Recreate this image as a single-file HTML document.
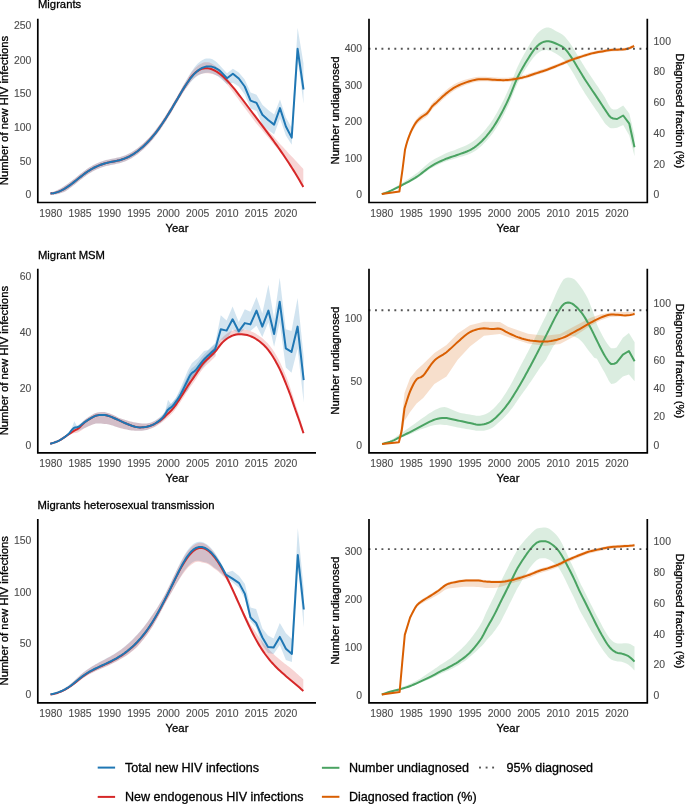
<!DOCTYPE html>
<html><head><meta charset="utf-8"><title>HIV migrants figure</title>
<style>html,body{margin:0;padding:0;background:#fff;}svg{display:block;will-change:transform;font-family:"Liberation Sans",sans-serif;}</style></head><body>
<svg width="685" height="804" viewBox="0 0 685 804">
<rect width="685" height="804" fill="#fff"/>
<text x="38" y="7.9" font-size="11.25" fill="#000" stroke="#000" stroke-width="0.3" text-anchor="start">Migrants</text>
<text x="38" y="258.55" font-size="11.25" fill="#000" stroke="#000" stroke-width="0.3" text-anchor="start">Migrant MSM</text>
<text x="37.6" y="508.9" font-size="11.25" fill="#000" stroke="#000" stroke-width="0.3" text-anchor="start">Migrants heterosexual transmission</text>
<polygon points="50.5,192.41 52,192.1 53.5,191.68 55,191.16 56.5,190.54 58,189.83 59.5,189.04 61,188.16 62.5,187.2 64,186.18 65.5,185.15 67,184.19 68.5,183.17 70,182.1 71.5,180.99 73,179.84 74.5,178.66 76,177.47 77.5,176.27 79,175.06 80.5,173.87 82,172.68 83.5,171.53 85,170.4 86.5,169.31 88,168.28 89.5,167.3 91,166.38 92.5,165.53 94,164.73 95.5,163.99 97,163.3 98.5,162.66 100,162.06 101.5,161.52 103,161.01 104.5,160.55 106,160.12 107.5,159.73 109,159.38 110.5,159.05 112,158.75 113.5,158.46 115,158.17 116.5,157.87 118,157.54 119.5,157.18 121,156.76 122.5,156.29 124,155.76 125.5,155.17 127,154.51 128.5,153.8 130,153.02 131.5,152.18 133,151.28 134.5,150.32 136,149.29 137.5,148.2 139,147.05 140.5,145.83 142,144.54 143.5,143.19 145,141.78 146.5,140.3 148,138.75 149.5,137.14 151,135.46 152.5,133.71 154,131.89 155.5,130.01 157,128.05 158.5,126.03 160,123.93 161.5,121.77 163,119.55 164.5,117.26 166,114.92 167.5,112.54 169,110.11 170.5,107.64 172,105.14 173.5,102.61 175,100.06 176.5,97.5 178,94.93 179.5,92.37 181,89.73 182.5,87.08 184,84.48 185.5,81.96 187,79.53 188.5,77.19 190,74.45 191.5,72.36 193,70.46 194.5,68.76 196,67.26 197.5,65.96 199,64.85 200.5,63.92 202,63.16 203.5,62.58 205,62.3 206.5,62.26 208,62.37 209.5,62.62 211,63.2 212.5,64.01 214,64.94 215.5,66 217,67.17 218.5,68.46 220,69.85 221.5,71.42 223,73.23 224.5,75.14 226,77.12 227.5,79.05 229,80.8 230.5,82.6 232,84.47 233.5,86.39 235,88.36 236.5,90.37 238,92.41 239.5,94.48 241,96.49 242.5,98.49 244,100.49 245.5,102.5 247,104.51 248.5,106.51 250,108.51 251.5,110.5 253,112.48 254.5,114.46 256,116.43 257.5,118.16 259,119.88 260.5,121.61 262,123.34 263.5,125.08 265,126.82 266.5,128.57 268,130.33 269.5,131.97 271,133.63 272.5,135.3 274,136.99 275.5,138.69 277,140.41 278.5,142.16 280,143.92 281.5,145.48 283,147.07 284.5,148.68 286,150.31 287.5,151.98 289,153.68 290.5,155.32 292,156.82 293.5,158.36 295,159.94 296.5,161.55 298,163.15 299.5,164.76 301,166.41 302.5,168.11 303.3,169.03 303.3,186.97 302.5,185.55 301,182.91 299.5,180.32 298,177.77 296.5,175.33 295,173.08 293.5,170.86 292,168.68 290.5,166.53 289,164.38 287.5,162.23 286,160.11 284.5,158.03 283,155.97 281.5,153.93 280,151.92 278.5,150.03 277,148.16 275.5,146.32 274,144.49 272.5,142.68 271,140.88 269.5,139.1 268,137.33 266.5,135.51 265,133.69 263.5,131.89 262,130.09 260.5,128.3 259,126.51 257.5,124.72 256,122.93 254.5,120.96 253,118.98 251.5,117 250,115.01 248.5,113.01 247,111.01 245.5,109 244,106.99 242.5,104.99 241,102.99 239.5,100.96 238,98.83 236.5,96.73 235,94.67 233.5,92.64 232,90.66 230.5,88.74 229,86.87 227.5,85.07 226,83.29 224.5,81.55 223,79.9 221.5,78.34 220,77.22 218.5,76.37 217,75.63 215.5,75 214,74.49 212.5,74.1 211,73.84 209.5,73.62 208,73.37 206.5,73.26 205,73.3 203.5,73.47 202,73.73 200.5,74.17 199,74.77 197.5,75.57 196,76.55 194.5,77.72 193,79.1 191.5,80.68 190,82.45 188.5,84.89 187,86.93 185.5,89.06 184,91.28 182.5,93.58 181,95.93 179.5,98.37 178,100.93 176.5,103.5 175,106.06 173.5,108.61 172,111.14 170.5,113.64 169,116.11 167.5,118.54 166,120.92 164.5,123.26 163,125.55 161.5,127.77 160,129.93 158.5,132.03 157,134.05 155.5,136.01 154,137.89 152.5,139.71 151,141.46 149.5,143.14 148,144.75 146.5,146.3 145,147.78 143.5,149.19 142,150.54 140.5,151.83 139,153.05 137.5,154.2 136,155.29 134.5,156.32 133,157.28 131.5,158.18 130,159.02 128.5,159.8 127,160.51 125.5,161.17 124,161.76 122.5,162.29 121,162.76 119.5,163.18 118,163.54 116.5,163.87 115,164.17 113.5,164.46 112,164.75 110.5,165.05 109,165.38 107.5,165.73 106,166.12 104.5,166.55 103,167.01 101.5,167.52 100,168.06 98.5,168.66 97,169.3 95.5,169.99 94,170.73 92.5,171.53 91,172.38 89.5,173.3 88,174.28 86.5,175.31 85,176.4 83.5,177.53 82,178.68 80.5,179.87 79,181.06 77.5,182.27 76,183.47 74.5,184.66 73,185.84 71.5,186.99 70,188.1 68.5,189.17 67,190.19 65.5,191.15 64,191.91 62.5,192.54 61,193.09 59.5,193.57 58,193.97 56.5,194.28 55,194.49 53.5,194.62 52,194.63 50.5,194.55" fill="#d62728" fill-opacity="0.2" stroke="none"/>
<polygon points="50.5,192.41 52,192.1 53.5,191.68 55,191.16 56.5,190.54 58,189.83 59.5,189.04 61,188.16 62.5,187.2 64,186.18 65.5,185.15 67,184.19 68.5,183.17 70,182.1 71.5,180.99 73,179.84 74.5,178.66 76,177.47 77.5,176.27 79,175.06 80.5,173.87 82,172.68 83.5,171.53 85,170.4 86.5,169.31 88,168.28 89.5,167.3 91,166.38 92.5,165.53 94,164.73 95.5,163.99 97,163.3 98.5,162.66 100,162.06 101.5,161.52 103,161.01 104.5,160.55 106,160.12 107.5,159.73 109,159.38 110.5,159.05 112,158.75 113.5,158.46 115,158.17 116.5,157.87 118,157.54 119.5,157.18 121,156.76 122.5,156.29 124,155.76 125.5,155.17 127,154.51 128.5,153.8 130,153.02 131.5,152.18 133,151.28 134.5,150.32 136,149.29 137.5,148.2 139,147.05 140.5,145.83 142,144.54 143.5,143.19 145,141.78 146.5,140.3 148,138.75 149.5,137.14 151,135.46 152.5,133.71 154,131.89 155.5,130.01 157,128.05 158.5,126.03 160,123.93 161.5,121.77 163,119.55 164.5,117.26 166,114.92 167.5,112.54 169,110.11 170.5,107.64 172,105.14 173.5,102.61 175,100.06 176.5,97.5 178,94.93 179.5,92.37 181,89.63 182.5,86.83 184,84.08 185.5,81.41 187,78.83 188.5,76.34 190,73.98 191.5,71.62 193,69.41 194.5,67.36 196,65.48 197.5,63.83 199,62.48 200.5,61.3 202,60.28 203.5,59.42 205,58.86 206.5,58.54 208,58.38 209.5,58.38 211,58.75 212.5,59.37 214,60.16 215.5,61.17 217,62.48 218.5,63.95 220,65.59 220.3,65.93 227,73.2 232.9,68.7 238.8,72.53 244.7,79.55 250.6,92.6 256.5,94.73 262.4,104.8 268.2,110 274.1,114.62 280,99.6 285.9,117.51 291.7,127.65 297.6,27.8 303.5,63.5 303.5,103.5 297.6,58.8 291.7,144.7 285.9,135.53 280,118.6 274.1,134.61 268.2,130 262.4,124.8 256.5,111.07 250.6,108.6 244.7,94.5 238.8,86.53 232.9,82.65 227,84.2 220.3,78.16 220,77.92 218.5,76.79 217,75.82 215.5,75.01 214,74.26 212.5,73.62 211,73.15 209.5,72.84 208,72.71 206.5,72.75 205,72.95 203.5,73.27 202,73.7 200.5,74.3 199,75.05 197.5,75.97 196,77.05 194.5,78.29 193,79.7 191.5,81.26 190,82.98 188.5,84.89 187,86.93 185.5,89.06 184,91.28 182.5,93.58 181,95.93 179.5,98.37 178,100.93 176.5,103.5 175,106.06 173.5,108.61 172,111.14 170.5,113.64 169,116.11 167.5,118.54 166,120.92 164.5,123.26 163,125.55 161.5,127.77 160,129.93 158.5,132.03 157,134.05 155.5,136.01 154,137.89 152.5,139.71 151,141.46 149.5,143.14 148,144.75 146.5,146.3 145,147.78 143.5,149.19 142,150.54 140.5,151.83 139,153.05 137.5,154.2 136,155.29 134.5,156.32 133,157.28 131.5,158.18 130,159.02 128.5,159.8 127,160.51 125.5,161.17 124,161.76 122.5,162.29 121,162.76 119.5,163.18 118,163.54 116.5,163.87 115,164.17 113.5,164.46 112,164.75 110.5,165.05 109,165.38 107.5,165.73 106,166.12 104.5,166.55 103,167.01 101.5,167.52 100,168.06 98.5,168.66 97,169.3 95.5,169.99 94,170.73 92.5,171.53 91,172.38 89.5,173.3 88,174.28 86.5,175.31 85,176.4 83.5,177.53 82,178.68 80.5,179.87 79,181.06 77.5,182.27 76,183.47 74.5,184.66 73,185.84 71.5,186.99 70,188.1 68.5,189.17 67,190.19 65.5,191.15 64,191.91 62.5,192.54 61,193.09 59.5,193.57 58,193.97 56.5,194.28 55,194.49 53.5,194.62 52,194.63 50.5,194.55" fill="#1f77b4" fill-opacity="0.2" stroke="none"/>
<polyline points="50.5,193.48 52,193.37 53.5,193.15 55,192.83 56.5,192.41 58,191.9 59.5,191.31 61,190.63 62.5,189.87 64,189.04 65.5,188.15 67,187.19 68.5,186.17 70,185.1 71.5,183.99 73,182.84 74.5,181.66 76,180.47 77.5,179.27 79,178.06 80.5,176.87 82,175.68 83.5,174.53 85,173.4 86.5,172.31 88,171.28 89.5,170.3 91,169.38 92.5,168.53 94,167.73 95.5,166.99 97,166.3 98.5,165.66 100,165.06 101.5,164.52 103,164.01 104.5,163.55 106,163.12 107.5,162.73 109,162.38 110.5,162.05 112,161.75 113.5,161.46 115,161.17 116.5,160.87 118,160.54 119.5,160.18 121,159.76 122.5,159.29 124,158.76 125.5,158.17 127,157.51 128.5,156.8 130,156.02 131.5,155.18 133,154.28 134.5,153.32 136,152.29 137.5,151.2 139,150.05 140.5,148.83 142,147.54 143.5,146.19 145,144.78 146.5,143.3 148,141.75 149.5,140.14 151,138.46 152.5,136.71 154,134.89 155.5,133.01 157,131.05 158.5,129.03 160,126.93 161.5,124.77 163,122.55 164.5,120.26 166,117.92 167.5,115.54 169,113.11 170.5,110.64 172,108.14 173.5,105.61 175,103.06 176.5,100.5 178,97.93 179.5,95.37 181,92.83 182.5,90.33 184,87.88 185.5,85.51 187,83.23 188.5,81.04 190,78.45 191.5,76.57 193,74.88 194.5,73.4 196,72.12 197.5,71.03 199,70.13 200.5,69.42 202,68.88 203.5,68.51 205,68.3 206.5,68.26 208,68.37 209.5,68.62 211,69.02 212.5,69.55 214,70.21 215.5,71 217,71.9 218.5,72.91 220,74.03 221.5,75.25 223,76.57 224.5,77.97 226,79.45 227.5,81.01 229,82.64 230.5,84.34 232,86.09 233.5,87.89 235,89.74 236.5,91.63 238,93.56 239.5,95.52 241,97.49 242.5,99.49 244,101.49 245.5,103.5 247,105.51 248.5,107.51 250,109.51 251.5,111.5 253,113.48 254.5,115.46 256,117.43 257.5,119.41 259,121.38 260.5,123.36 262,125.34 263.5,127.33 265,129.32 266.5,131.32 268,133.33 269.5,135.35 271,137.38 272.5,139.43 274,141.49 275.5,143.57 277,145.66 278.5,147.78 280,149.92 281.5,152.08 283,154.27 284.5,156.48 286,158.71 287.5,160.98 289,163.28 290.5,165.61 292,167.97 293.5,170.36 295,172.79 296.5,175.26 298,177.77 299.5,180.32 301,182.91 302.5,185.55 303.3,186.97" fill="none" stroke="#d62728" stroke-width="2.0" stroke-linejoin="round" stroke-linecap="butt"/>
<polyline points="50.5,193.48 52,193.37 53.5,193.15 55,192.83 56.5,192.41 58,191.9 59.5,191.31 61,190.63 62.5,189.87 64,189.04 65.5,188.15 67,187.19 68.5,186.17 70,185.1 71.5,183.99 73,182.84 74.5,181.66 76,180.47 77.5,179.27 79,178.06 80.5,176.87 82,175.68 83.5,174.53 85,173.4 86.5,172.31 88,171.28 89.5,170.3 91,169.38 92.5,168.53 94,167.73 95.5,166.99 97,166.3 98.5,165.66 100,165.06 101.5,164.52 103,164.01 104.5,163.55 106,163.12 107.5,162.73 109,162.38 110.5,162.05 112,161.75 113.5,161.46 115,161.17 116.5,160.87 118,160.54 119.5,160.18 121,159.76 122.5,159.29 124,158.76 125.5,158.17 127,157.51 128.5,156.8 130,156.02 131.5,155.18 133,154.28 134.5,153.32 136,152.29 137.5,151.2 139,150.05 140.5,148.83 142,147.54 143.5,146.19 145,144.78 146.5,143.3 148,141.75 149.5,140.14 151,138.46 152.5,136.71 154,134.89 155.5,133.01 157,131.05 158.5,129.03 160,126.93 161.5,124.77 163,122.55 164.5,120.26 166,117.92 167.5,115.54 169,113.11 170.5,110.64 172,108.14 173.5,105.61 175,103.06 176.5,100.5 178,97.93 179.5,95.37 181,92.83 182.5,90.33 184,87.88 185.5,85.51 187,83.23 188.5,81.04 190,78.98 191.5,77.05 193,75.27 194.5,73.65 196,72.19 197.5,70.9 199,69.77 200.5,68.8 202,67.99 203.5,67.35 205,66.86 206.5,66.54 208,66.38 209.5,66.38 211,66.55 212.5,66.87 214,67.36 215.5,68.01 217,68.82 218.5,69.79 220,70.92 220.3,71.16 227,78.2 232.9,73.7 238.8,78.5 244.7,86.5 250.6,100.6 256.5,102.9 262.4,114.8 268.2,120 274.1,124.6 280,108.1 285.9,126.5 291.7,137.6 297.6,48.8 303.5,89.5" fill="none" stroke="#1f77b4" stroke-width="2.0" stroke-linejoin="round" stroke-linecap="butt"/>
<path d="M37.8 18.7 V202.5 H316" fill="none" stroke="#000" stroke-width="1.7" stroke-linecap="butt" stroke-linejoin="miter"/>
<text x="31.3" y="29.32" font-size="10.4" fill="#4d4d4d" stroke="#4d4d4d" stroke-width="0.12" text-anchor="end">250</text>
<text x="31.3" y="63.52" font-size="10.4" fill="#4d4d4d" stroke="#4d4d4d" stroke-width="0.12" text-anchor="end">200</text>
<text x="31.3" y="97.32" font-size="10.4" fill="#4d4d4d" stroke="#4d4d4d" stroke-width="0.12" text-anchor="end">150</text>
<text x="31.3" y="131.12" font-size="10.4" fill="#4d4d4d" stroke="#4d4d4d" stroke-width="0.12" text-anchor="end">100</text>
<text x="31.3" y="164.82" font-size="10.4" fill="#4d4d4d" stroke="#4d4d4d" stroke-width="0.12" text-anchor="end">50</text>
<text x="31.3" y="198.32" font-size="10.4" fill="#4d4d4d" stroke="#4d4d4d" stroke-width="0.12" text-anchor="end">0</text>
<text x="50.7" y="216.9" font-size="10.4" fill="#4d4d4d" stroke="#4d4d4d" stroke-width="0.12" text-anchor="middle">1980</text>
<text x="80.09" y="216.9" font-size="10.4" fill="#4d4d4d" stroke="#4d4d4d" stroke-width="0.12" text-anchor="middle">1985</text>
<text x="109.48" y="216.9" font-size="10.4" fill="#4d4d4d" stroke="#4d4d4d" stroke-width="0.12" text-anchor="middle">1990</text>
<text x="138.87" y="216.9" font-size="10.4" fill="#4d4d4d" stroke="#4d4d4d" stroke-width="0.12" text-anchor="middle">1995</text>
<text x="168.26" y="216.9" font-size="10.4" fill="#4d4d4d" stroke="#4d4d4d" stroke-width="0.12" text-anchor="middle">2000</text>
<text x="197.65" y="216.9" font-size="10.4" fill="#4d4d4d" stroke="#4d4d4d" stroke-width="0.12" text-anchor="middle">2005</text>
<text x="227.04" y="216.9" font-size="10.4" fill="#4d4d4d" stroke="#4d4d4d" stroke-width="0.12" text-anchor="middle">2010</text>
<text x="256.43" y="216.9" font-size="10.4" fill="#4d4d4d" stroke="#4d4d4d" stroke-width="0.12" text-anchor="middle">2015</text>
<text x="285.82" y="216.9" font-size="10.4" fill="#4d4d4d" stroke="#4d4d4d" stroke-width="0.12" text-anchor="middle">2020</text>
<text x="177" y="231.6" font-size="11.3" fill="#000" stroke="#000" stroke-width="0.3" text-anchor="middle">Year</text>
<text x="8.2" y="110.5" font-size="11.3" fill="#000" stroke="#000" stroke-width="0.3" text-anchor="middle" transform="rotate(-90 8.2 110.5)">Number of new HIV infections</text>
<polygon points="381.8,194.1 383.32,193.43 385.48,192.45 388.07,191.21 390.9,189.71 392.65,188.71 394.57,187.57 396.61,186.33 398.71,185.03 400.81,183.72 402.86,182.45 404.8,181.22 406.62,180.07 408.36,178.96 410.05,177.87 411.73,176.76 413.43,175.6 415.18,174.36 417,173 418.66,171.67 420.38,170.22 422.12,168.69 423.89,167.11 425.68,165.53 427.46,163.99 429.24,162.54 431,161.27 433.01,160 435.03,158.81 437.05,157.69 439.07,156.63 441.06,155.64 443,154.7 444.9,153.8 447.02,152.87 449.05,152.07 451.03,151.34 453.01,150.63 455.02,149.9 457.1,149.1 458.98,148.36 460.93,147.59 462.92,146.78 464.9,145.93 466.86,145.04 468.73,144.1 470.5,143.1 472.41,141.87 474.19,140.61 475.88,139.28 477.54,137.85 479.2,136.31 480.9,134.61 482.22,133.22 483.56,131.73 484.91,130.17 486.26,128.54 487.59,126.86 488.9,125.15 490.17,123.42 491.4,121.66 492.57,119.9 493.7,118.14 494.79,116.35 495.86,114.54 496.92,112.69 497.97,110.78 499.02,108.82 500.1,106.79 501.07,104.95 502.03,103.06 503,101.13 503.97,99.16 504.93,97.15 505.9,95.09 506.87,92.99 507.83,90.85 508.8,88.67 509.59,86.81 510.38,84.88 511.17,82.88 511.96,80.84 512.75,78.78 513.55,76.71 514.34,74.65 515.13,72.64 515.92,70.67 516.71,68.79 517.5,67 518.59,64.67 519.67,62.45 520.76,60.32 521.85,58.27 522.94,56.27 524.02,54.32 525.11,52.39 526.2,50.48 527.46,48.29 528.74,46.09 530.02,43.93 531.29,41.86 532.54,39.9 533.75,38.08 534.9,36.45 536.77,34.07 538.51,32.18 540.2,30.66 541.9,29.41 544.2,28.19 546.5,27.5 548.8,27.45 551.09,28.27 553.38,29.48 555.8,30.96 557.77,31.94 559.85,33.01 561.93,34.28 563.9,35.84 565.37,37.32 566.78,38.95 568.15,40.73 569.52,42.62 570.9,44.6 572.07,46.33 573.24,48.17 574.41,50.09 575.57,52.04 576.74,53.99 577.9,55.9 579.05,57.79 580.2,59.7 581.35,61.6 582.5,63.49 583.65,65.36 584.8,67.2 585.96,69 587.13,70.76 588.29,72.51 589.46,74.24 590.63,75.97 591.8,77.7 592.97,79.44 594.14,81.17 595.31,82.9 596.47,84.63 597.64,86.36 598.8,88.1 599.97,89.88 601.17,91.72 602.36,93.56 603.52,95.36 604.64,97.05 605.7,98.9 607.12,101.64 608.4,104.13 609.66,106.32 611,108.17 613.2,109.38 615.49,109.41 617.1,109.36 623.2,105.5 629.3,113.59 634.5,135.2 634.5,156.2 629.3,135.54 623.2,124.92 617.1,127.72 615.49,127.97 613.2,128.23 611,128.17 609.66,127.67 608.4,126.73 607.12,125.52 605.7,124.2 604.64,123.05 603.52,121.36 602.36,119.56 601.17,117.72 599.97,115.88 598.8,114.1 597.64,112.36 596.47,110.63 595.31,108.9 594.14,107.17 592.97,105.44 591.8,103.7 590.63,101.97 589.46,100.24 588.29,98.51 587.13,96.76 585.96,95 584.8,93.2 583.65,91.36 582.5,89.49 581.35,87.6 580.2,85.7 579.05,83.67 577.9,81.62 576.74,79.55 575.57,77.45 574.41,75.34 573.24,73.27 572.07,71.28 570.9,69.39 569.52,67.23 568.15,65.15 566.78,63.18 565.37,61.37 563.9,59.66 561.93,57.76 559.85,56.15 557.77,54.74 555.8,53.47 553.38,52.15 551.09,51.08 548.8,50.4 546.5,50.1 544.2,50.18 541.9,50.79 540.2,51.58 538.51,52.65 536.77,54.07 534.9,55.95 533.75,57.28 532.54,58.81 531.29,60.52 530.02,62.34 528.74,64.24 527.46,66.18 526.2,68.12 525.11,69.81 524.02,71.52 522.94,73.27 521.85,75.16 520.76,77.12 519.67,79.15 518.59,81.27 517.5,83.5 516.71,85.22 515.92,87.03 515.13,88.92 514.34,90.86 513.55,92.85 512.75,94.84 511.96,96.84 511.17,98.81 510.38,100.74 509.59,102.61 508.8,104.4 507.83,106.51 506.87,108.57 505.9,110.59 504.93,112.56 503.97,114.49 503,116.38 502.03,118.23 501.07,120.04 500.1,121.8 499.02,123.63 497.97,125.38 496.92,127.07 495.86,128.71 494.79,130.31 493.7,131.88 492.57,133.42 491.4,134.94 490.17,136.46 488.9,138.01 487.59,139.54 486.26,141.04 484.91,142.49 483.56,143.87 482.22,145.18 480.9,146.39 479.2,147.86 477.54,149.19 475.88,150.4 474.19,151.5 472.41,152.53 470.5,153.5 468.73,154.27 466.86,154.96 464.9,155.58 462.92,156.17 460.93,156.72 458.98,157.29 457.1,157.9 455.02,158.57 453.01,159.17 451.03,159.74 449.05,160.33 447.02,161 444.9,161.8 443,162.56 441.06,163.37 439.07,164.23 437.05,165.16 435.03,166.14 433.01,167.2 431,168.33 429.24,169.44 427.46,170.66 425.68,171.96 423.89,173.3 422.12,174.64 420.38,175.94 418.66,177.16 417,178.27 415.18,179.38 413.43,180.4 411.73,181.33 410.05,182.21 408.36,183.08 406.62,183.95 404.8,184.86 402.86,185.83 400.81,186.83 398.71,187.82 396.61,188.76 394.57,189.66 392.65,190.48 390.9,191.19 388.07,192.22 385.48,193.03 383.32,193.65 381.8,194.1" fill="#4aa362" fill-opacity="0.2" stroke="none"/>
<polygon points="381.8,194.1 399.4,191.34 402.5,168.3 405,147.71 405.4,146.12 405.96,143.84 406.65,141.24 407.4,138.69 408.05,136.7 408.77,134.63 409.53,132.52 410.35,130.44 411.2,128.45 412.35,126 413.57,123.57 414.84,121.3 416.1,119.38 417.71,117.39 419.34,115.82 421.1,114.31 423.12,112.9 425.28,111.55 427.3,109.92 428.66,108.28 429.94,106.39 431.16,104.52 432.3,102.95 433.91,101.35 436.2,99.4 437.35,98.31 438.72,96.99 440.24,95.52 441.86,93.97 443.51,92.42 445.15,90.96 446.7,89.65 448.4,88.28 450.06,87.01 451.72,85.88 453.41,84.81 455.19,83.8 457.1,82.84 458.88,82.04 460.8,81.27 462.79,80.53 464.81,79.85 466.8,79.22 468.72,78.66 470.5,78.18 472.72,77.65 474.71,77.25 476.63,76.98 478.64,76.81 480.9,76.71 483.05,76.68 485.4,76.77 487.84,76.92 490.29,77.1 492.64,77.27 494.8,77.4 497.12,77.51 499.25,77.64 501.27,77.74 503.26,77.79 505.3,77.76 507.38,77.65 509.46,77.47 511.54,77.24 513.62,76.95 515.7,76.63 517.79,76.28 519.89,75.88 522,75.43 524.1,74.94 526.2,74.4 528.3,73.79 530.4,73.11 532.51,72.39 534.61,71.67 536.7,70.97 538.74,70.33 540.72,69.72 542.73,69.1 544.83,68.42 547.1,67.64 548.88,66.98 550.8,66.25 552.79,65.48 554.81,64.69 556.8,63.9 558.72,63.13 560.5,62.42 562.77,61.5 564.87,60.62 566.88,59.78 568.86,58.97 570.9,58.19 573,57.45 575.1,56.75 577.2,56.07 579.3,55.41 581.4,54.76 583.48,54.09 585.56,53.43 587.64,52.78 589.72,52.17 591.8,51.63 593.92,51.15 596.08,50.74 598.22,50.37 600.31,50.02 602.3,49.69 604.6,49.29 606.76,48.92 608.87,48.6 611,48.35 613.26,48.19 615.57,48.11 617.77,48.06 619.7,48.01 622.52,47.94 624.9,47.74 627.57,47.17 630.1,46.37 632.43,45.25 634.1,44.3 634.1,47.3 632.43,48.27 630.1,49.41 627.57,50.23 624.9,50.83 622.52,51.05 619.7,51.15 617.77,51.22 615.57,51.29 613.26,51.39 611,51.57 608.87,51.85 606.76,52.19 604.6,52.58 602.3,53 600.31,53.35 598.22,53.72 596.08,54.11 593.92,54.54 591.8,55.04 589.72,55.6 587.64,56.23 585.56,56.9 583.48,57.59 581.4,58.27 579.3,58.95 577.2,59.62 575.1,60.32 573,61.04 570.9,61.8 568.86,62.6 566.88,63.43 564.87,64.29 562.77,65.19 560.5,66.14 558.72,66.87 556.8,67.65 554.81,68.46 552.79,69.27 550.8,70.07 548.88,70.81 547.1,71.48 544.83,72.29 542.73,72.99 540.72,73.63 538.74,74.25 536.7,74.92 534.61,75.64 532.51,76.38 530.4,77.12 528.3,77.82 526.2,78.45 524.1,79.01 522,79.52 519.89,79.99 517.79,80.41 515.7,80.78 513.62,81.13 511.54,81.43 509.46,81.69 507.38,81.88 505.3,82.02 503.26,82.07 501.27,82.03 499.25,81.95 497.12,81.85 494.8,81.75 492.64,81.65 490.29,81.5 487.84,81.34 485.4,81.22 483.05,81.15 480.9,81.2 478.64,81.4 476.63,81.7 474.71,82.1 472.72,82.63 470.5,83.32 468.72,83.91 466.8,84.6 464.81,85.36 462.79,86.18 460.8,87.05 458.88,87.95 457.1,88.86 455.19,89.95 453.41,91.08 451.72,92.26 450.06,93.5 448.4,94.76 446.7,96.1 445.15,97.39 443.51,98.83 441.86,100.35 440.24,101.88 438.72,103.33 437.35,104.63 436.2,105.7 433.91,107.62 432.3,109.2 431.16,110.75 429.94,112.6 428.66,114.48 427.3,116.1 425.28,117.7 423.12,119.01 421.1,120.4 419.34,121.88 417.71,123.43 416.1,125.4 414.84,127.27 413.57,129.31 412.35,131.51 411.2,133.75 410.35,135.6 409.53,137.53 408.77,139.49 408.05,141.44 407.4,143.31 406.65,145.72 405.96,148.2 405.4,150.37 405,151.89 402.5,171.1 399.4,191.66 381.8,194.1" fill="#d95f02" fill-opacity="0.2" stroke="none"/>
<polyline points="381.8,194.1 383.32,193.57 385.48,192.84 388.07,191.88 390.9,190.7 392.65,189.89 394.57,188.96 396.61,187.95 398.71,186.89 400.81,185.8 402.86,184.73 404.8,183.7 406.62,182.73 408.36,181.8 410.05,180.88 411.73,179.94 413.43,178.95 415.18,177.88 417,176.7 418.66,175.54 420.38,174.26 422.12,172.9 423.89,171.5 425.68,170.1 427.46,168.74 429.24,167.46 431,166.3 433.01,165.1 435.03,163.97 437.05,162.92 439.07,161.93 441.06,161 443,160.13 444.9,159.3 447.02,158.44 449.05,157.7 451.03,157.04 453.01,156.4 455.02,155.74 457.1,155 458.98,154.33 460.93,153.66 462.92,152.97 464.9,152.26 466.86,151.5 468.73,150.69 470.5,149.8 472.41,148.7 474.19,147.56 475.88,146.34 477.54,145.02 479.2,143.58 480.9,142 482.22,140.7 483.56,139.3 484.91,137.83 486.26,136.29 487.59,134.7 488.9,133.08 490.17,131.44 491.4,129.8 492.57,128.16 493.7,126.51 494.79,124.83 495.86,123.13 496.92,121.38 497.97,119.58 499.02,117.73 500.1,115.8 501.07,114.04 502.03,112.23 503,110.38 503.97,108.49 504.93,106.56 505.9,104.59 506.87,102.57 507.83,100.51 508.8,98.4 509.59,96.61 510.38,94.74 511.17,92.81 511.96,90.84 512.75,88.84 513.55,86.85 514.34,84.86 515.13,82.92 515.92,81.03 516.71,79.22 517.5,77.5 518.59,75.27 519.67,73.15 520.76,71.12 521.85,69.16 522.94,67.27 524.02,65.42 525.11,63.6 526.2,61.8 527.46,59.73 528.74,57.66 530.02,55.64 531.29,53.69 532.54,51.86 533.75,50.18 534.9,48.7 536.77,46.57 538.51,44.91 540.2,43.62 541.9,42.6 544.2,41.68 546.5,41.3 548.8,41.3 551.09,41.69 553.38,42.47 555.8,43.5 557.77,44.34 559.85,45.29 561.93,46.45 563.9,47.9 565.37,49.32 566.78,50.95 568.15,52.73 569.52,54.62 570.9,56.6 572.07,58.33 573.24,60.17 574.41,62.09 575.57,64.04 576.74,65.99 577.9,67.9 579.05,69.79 580.2,71.7 581.35,73.6 582.5,75.49 583.65,77.36 584.8,79.2 585.96,81 587.13,82.76 588.29,84.51 589.46,86.24 590.63,87.97 591.8,89.7 592.97,91.44 594.14,93.17 595.31,94.9 596.47,96.63 597.64,98.36 598.8,100.1 599.97,101.88 601.17,103.72 602.36,105.56 603.52,107.36 604.64,109.05 605.7,110.6 607.12,112.73 608.4,114.67 609.66,116.33 611,117.6 613.2,118.53 615.49,118.84 617.1,119 623.2,115.5 629.3,123.7 634.5,147.2" fill="none" stroke="#4aa362" stroke-width="2.0" stroke-linejoin="round" stroke-linecap="butt"/>
<polyline points="381.8,194.1 399.4,191.5 402.5,169.7 405,149.8 405.4,148.24 405.96,146.02 406.65,143.48 407.4,141 408.05,139.07 408.77,137.06 409.53,135.03 410.35,133.02 411.2,131.1 412.35,128.75 413.57,126.44 414.84,124.29 416.1,122.4 417.71,120.43 419.34,118.88 421.1,117.4 423.12,116.01 425.28,114.7 427.3,113.1 428.66,111.48 429.94,109.6 431.16,107.75 432.3,106.2 433.91,104.62 436.2,102.7 437.35,101.63 438.72,100.33 440.24,98.88 441.86,97.35 443.51,95.83 445.15,94.39 446.7,93.1 448.4,91.76 450.06,90.5 451.72,89.32 453.41,88.2 455.19,87.13 457.1,86.1 458.88,85.24 460.8,84.41 462.79,83.61 464.81,82.86 466.8,82.16 468.72,81.54 470.5,81 472.72,80.39 474.71,79.93 476.63,79.59 478.64,79.35 480.9,79.2 483.05,79.16 485.4,79.23 487.84,79.37 490.29,79.53 492.64,79.69 494.8,79.8 497.12,79.9 499.25,80.01 501.27,80.1 503.26,80.14 505.3,80.1 507.38,79.97 509.46,79.78 511.54,79.53 513.62,79.23 515.7,78.9 517.79,78.53 519.89,78.12 522,77.66 524.1,77.15 526.2,76.6 528.3,75.98 530.4,75.28 532.51,74.55 534.61,73.81 536.7,73.1 538.74,72.44 540.72,71.82 542.73,71.19 544.83,70.5 547.1,69.7 548.88,69.03 550.8,68.3 552.79,67.51 554.81,66.7 556.8,65.9 558.72,65.12 560.5,64.4 562.77,63.46 564.87,62.57 566.88,61.71 568.86,60.89 570.9,60.1 573,59.34 575.1,58.63 577.2,57.94 579.3,57.27 581.4,56.6 583.48,55.92 585.56,55.24 587.64,54.58 589.72,53.96 591.8,53.4 593.92,52.91 596.08,52.48 598.22,52.1 600.31,51.74 602.3,51.4 604.6,50.98 606.76,50.6 608.87,50.27 611,50 613.26,49.83 615.57,49.73 617.77,49.67 619.7,49.6 622.52,49.51 624.9,49.3 627.57,48.71 630.1,47.9 632.43,46.76 634.1,45.8" fill="none" stroke="#d95f02" stroke-width="2.0" stroke-linejoin="round" stroke-linecap="butt"/>
<line x1="368.55" y1="48.7" x2="647" y2="48.7" stroke="#555" stroke-width="1.9" stroke-dasharray="1.9 4.55"/>
<path d="M369 18.7 V202.5 H647.3 V18.7" fill="none" stroke="#000" stroke-width="1.7" stroke-linecap="butt" stroke-linejoin="miter"/>
<text x="362" y="52.32" font-size="10.4" fill="#4d4d4d" stroke="#4d4d4d" stroke-width="0.12" text-anchor="end">400</text>
<text x="362" y="88.82" font-size="10.4" fill="#4d4d4d" stroke="#4d4d4d" stroke-width="0.12" text-anchor="end">300</text>
<text x="362" y="125.32" font-size="10.4" fill="#4d4d4d" stroke="#4d4d4d" stroke-width="0.12" text-anchor="end">200</text>
<text x="362" y="161.72" font-size="10.4" fill="#4d4d4d" stroke="#4d4d4d" stroke-width="0.12" text-anchor="end">100</text>
<text x="362" y="198.22" font-size="10.4" fill="#4d4d4d" stroke="#4d4d4d" stroke-width="0.12" text-anchor="end">0</text>
<text x="653.6" y="44.72" font-size="10.4" fill="#4d4d4d" stroke="#4d4d4d" stroke-width="0.12" text-anchor="start">100</text>
<text x="653.6" y="75.42" font-size="10.4" fill="#4d4d4d" stroke="#4d4d4d" stroke-width="0.12" text-anchor="start">80</text>
<text x="653.6" y="106.12" font-size="10.4" fill="#4d4d4d" stroke="#4d4d4d" stroke-width="0.12" text-anchor="start">60</text>
<text x="653.6" y="136.82" font-size="10.4" fill="#4d4d4d" stroke="#4d4d4d" stroke-width="0.12" text-anchor="start">40</text>
<text x="653.6" y="167.52" font-size="10.4" fill="#4d4d4d" stroke="#4d4d4d" stroke-width="0.12" text-anchor="start">20</text>
<text x="653.6" y="198.22" font-size="10.4" fill="#4d4d4d" stroke="#4d4d4d" stroke-width="0.12" text-anchor="start">0</text>
<text x="381.8" y="216.9" font-size="10.4" fill="#4d4d4d" stroke="#4d4d4d" stroke-width="0.12" text-anchor="middle">1980</text>
<text x="411.19" y="216.9" font-size="10.4" fill="#4d4d4d" stroke="#4d4d4d" stroke-width="0.12" text-anchor="middle">1985</text>
<text x="440.58" y="216.9" font-size="10.4" fill="#4d4d4d" stroke="#4d4d4d" stroke-width="0.12" text-anchor="middle">1990</text>
<text x="469.97" y="216.9" font-size="10.4" fill="#4d4d4d" stroke="#4d4d4d" stroke-width="0.12" text-anchor="middle">1995</text>
<text x="499.36" y="216.9" font-size="10.4" fill="#4d4d4d" stroke="#4d4d4d" stroke-width="0.12" text-anchor="middle">2000</text>
<text x="528.75" y="216.9" font-size="10.4" fill="#4d4d4d" stroke="#4d4d4d" stroke-width="0.12" text-anchor="middle">2005</text>
<text x="558.14" y="216.9" font-size="10.4" fill="#4d4d4d" stroke="#4d4d4d" stroke-width="0.12" text-anchor="middle">2010</text>
<text x="587.53" y="216.9" font-size="10.4" fill="#4d4d4d" stroke="#4d4d4d" stroke-width="0.12" text-anchor="middle">2015</text>
<text x="616.92" y="216.9" font-size="10.4" fill="#4d4d4d" stroke="#4d4d4d" stroke-width="0.12" text-anchor="middle">2020</text>
<text x="508" y="231.6" font-size="11.3" fill="#000" stroke="#000" stroke-width="0.3" text-anchor="middle">Year</text>
<text x="339.4" y="110.5" font-size="11.3" fill="#000" stroke="#000" stroke-width="0.3" text-anchor="middle" transform="rotate(-90 339.4 110.5)">Number undiagnosed</text>
<text x="676.4" y="110.7" font-size="11.3" fill="#000" stroke="#000" stroke-width="0.3" text-anchor="middle" transform="rotate(90 676.4 110.7)">Diagnosed fraction (%)</text>
<polygon points="195.65,371.53 196.52,370.19 197.42,368.79 198.33,367.37 199.25,365.96 200.17,364.55 201.07,363.11 201.95,361.76 202.8,360.53 204.04,358.9 205.25,357.46 206.43,356.17 207.59,354.96 208.71,353.79 209.8,352.59 211.05,351.2 212.24,349.91 213.4,348.64 214.54,347.33 215.7,346 216.68,344.81 217.67,343.51 218.66,342.16 219.63,340.84 220.58,339.59 221.5,338.5 222.79,337.14 223.99,335.99 225.21,334.98 226.5,334 227.92,333.02 229.41,332.1 230.93,331.28 232.4,330.6 234.29,329.96 236.14,329.55 238,329.3 239.87,329.19 241.75,329.23 243.6,329.4 245.4,329.67 247.19,330.06 249,330.6 250.41,331.12 251.86,331.7 253.3,332.36 254.7,333.08 256.04,333.84 257.34,334.64 258.64,335.51 260,336.49 261.15,337.35 262.33,338.29 263.53,339.3 264.73,340.39 265.9,341.46 266.85,342.39 267.79,343.37 268.72,344.41 269.64,345.5 270.57,346.66 271.5,347.88 272.31,349.02 273.13,350.26 273.96,351.55 274.78,352.87 275.59,354.2 276.36,355.51 277.1,356.79 277.9,358.21 278.65,359.59 279.36,360.96 280.06,362.36 280.77,363.83 281.5,365.39 282.07,366.64 282.64,367.93 283.22,369.27 283.8,370.63 284.38,372.01 284.96,373.4 285.53,374.79 286.1,376.16 286.66,377.52 287.21,378.94 287.76,380.46 288.31,382 288.85,383.54 289.4,385.12 289.95,386.72 290.5,388.38 291,389.89 291.5,391.46 292,393.07 292.51,394.7 293.02,396.33 293.52,397.97 294.02,399.58 294.51,401.16 295,402.7 295.54,404.36 296.07,405.98 296.59,407.56 297.11,409.12 297.63,410.68 298.15,412.25 298.67,413.85 299.2,415.49 299.7,417.05 300.23,418.75 300.79,420.53 301.34,422.31 301.88,424.05 302.38,425.68 302.83,427.14 303.21,428.37 303.5,429.3 303.5,433.3 303.21,432.45 302.83,431.34 302.38,430.01 301.88,428.53 301.34,426.95 300.79,425.33 300.23,423.72 299.7,422.17 299.2,420.75 298.67,419.27 298.15,417.83 297.63,416.41 297.11,415 296.59,413.59 296.07,412.16 295.54,410.7 295,409.2 294.51,407.82 294.02,406.39 293.52,404.93 293.02,403.45 292.51,401.98 292,400.51 291.5,399.06 291,397.65 290.5,396.28 289.95,394.8 289.4,393.37 288.85,391.96 288.31,390.59 287.76,389.23 287.21,387.87 286.66,386.5 286.1,385.1 285.53,383.68 284.96,382.25 284.38,380.82 283.8,379.4 283.22,378 282.64,376.62 282.07,375.28 281.5,374 280.77,372.38 280.06,370.86 279.36,369.4 278.65,367.96 277.9,366.5 277.1,365 276.36,363.65 275.59,362.26 274.78,360.85 273.96,359.44 273.13,358.07 272.31,356.75 271.5,355.5 270.57,354.13 269.64,352.83 268.72,351.59 267.79,350.41 266.85,349.28 265.9,348.2 264.73,346.97 263.53,345.82 262.33,344.74 261.15,343.73 260,342.8 258.64,341.75 257.34,340.83 256.04,339.99 254.7,339.2 253.3,338.45 251.86,337.75 250.41,337.13 249,336.6 247.19,336.06 245.4,335.67 243.6,335.4 241.75,335.23 239.87,335.19 238,335.3 236.14,335.55 234.29,335.96 232.4,336.6 230.93,337.28 229.41,338.1 227.92,339.02 226.5,340 225.21,340.98 223.99,341.99 222.79,343.14 221.5,344.5 220.58,345.59 219.63,346.84 218.66,348.16 217.67,349.51 216.68,350.81 215.7,352 214.54,353.3 213.4,354.53 212.24,355.72 211.05,356.94 209.8,358.25 208.71,359.37 207.59,360.46 206.43,361.6 205.25,362.81 204.04,364.17 202.8,365.71 201.95,366.89 201.07,368.18 200.17,369.56 199.25,370.96 198.33,372.37 197.42,373.79 196.52,375.19 195.65,376.53" fill="#d62728" fill-opacity="0.2" stroke="none"/>
<polygon points="50.2,443.89 51.16,443.51 52.49,443.02 54.06,442.42 55.75,441.73 57.44,440.97 59,440.15 60.27,439.39 61.57,438.54 62.88,437.64 64.17,436.7 65.42,435.73 66.6,434.77 67.7,433.81 69.07,432.4 70.3,430.87 71.43,429.33 72.52,427.94 73.6,426.84 75.35,425.89 77.01,425.51 78.7,424.83 79.99,423.85 81.29,422.67 82.62,421.41 84,420.2 85.46,419.07 86.97,418.02 88.5,417 90,416.06 91.44,415.18 92.84,414.34 94.27,413.6 95.8,413 97.46,412.53 99.22,412.18 101.01,411.96 102.8,411.91 104.52,412.1 106.21,412.44 107.97,412.95 109.9,413.62 111.32,414.18 112.84,414.85 114.41,415.59 116.02,416.37 117.62,417.16 119.2,417.88 120.76,418.4 122.34,418.94 123.92,419.49 125.48,420.02 127.01,420.51 128.5,420.94 130.21,421.41 131.86,421.84 133.47,422.21 135.08,422.48 136.7,422.63 138.36,422.96 140.04,423.23 141.71,423.41 143.34,423.5 144.9,423.51 146.79,423.38 148.63,423.1 150.35,422.68 151.9,422.1 153.63,421.33 155.09,420.5 156.5,419.6 157.93,418.59 159.3,417.51 160.6,416.36 161.76,415.27 162.85,414.17 164,412.73 164.94,411.25 165.91,409.49 166.92,407.72 168,406.17 169.11,405.07 170.26,404.25 171.51,403.3 172.9,401.84 173.68,400.84 174.53,399.7 175.42,398.45 176.33,397.13 177.26,395.74 178.17,394.32 179.06,392.88 179.9,391.45 180.71,390 181.5,388.48 182.27,386.91 183.03,385.32 183.77,383.73 184.5,382.18 185.21,380.68 185.9,379.25 186.66,377.69 187.38,376.14 188.07,374.64 188.75,373.2 189.42,371.85 190.1,370.61 190.8,369.51 192,368.1 193.17,367.16 194.41,366.23 195.8,364.9 196.7,363.83 197.68,362.58 198.71,361.21 199.77,359.79 200.81,358.39 201.83,357.07 202.8,355.9 204.06,354.5 205.25,353.26 206.42,352.13 207.59,351.03 208.8,349.9 210.16,348.66 211.64,347.36 213.08,346.12 214.32,345.06 215.2,344.3 215.2,354.3 214.32,355.06 213.08,356.12 211.64,357.36 210.16,358.66 208.8,359.9 207.59,361.03 206.42,362.13 205.25,363.26 204.06,364.5 202.8,365.9 201.83,367.07 200.81,368.39 199.77,369.79 198.71,371.21 197.68,372.58 196.7,373.83 195.8,374.9 194.41,376.17 193.17,376.98 192,377.8 190.8,379.09 190.1,380.12 189.42,381.29 188.75,382.58 188.07,383.95 187.38,385.38 186.66,386.86 185.9,388.35 185.21,389.7 184.5,391.13 183.77,392.61 183.03,394.12 182.27,395.63 181.5,397.13 180.71,398.57 179.9,399.94 179.06,401.28 178.17,402.63 177.26,403.97 176.33,405.26 175.42,406.49 174.53,407.63 173.68,408.66 172.9,409.56 171.51,410.84 170.26,411.62 169.11,412.29 168,413.23 166.92,414.64 165.91,416.28 164.94,417.9 164,419.27 162.85,420.55 161.76,421.51 160.6,422.44 159.3,423.51 157.93,424.59 156.5,425.6 155.09,426.5 153.63,427.33 151.9,428.1 150.35,428.68 148.63,429.31 146.79,429.88 144.9,430.3 143.34,430.53 141.71,430.69 140.04,430.77 138.36,430.75 136.7,430.67 135.08,430.7 133.47,430.6 131.86,430.42 130.21,430.17 128.5,429.89 127.01,429.62 125.48,429.3 123.92,428.94 122.34,428.57 120.76,428.2 119.2,427.86 117.62,427.33 116.02,426.75 114.41,426.17 112.84,425.62 111.32,425.14 109.9,424.75 107.97,424.33 106.21,424.04 104.52,423.91 102.8,423.87 101.01,423.58 99.22,423.44 97.46,423.46 95.8,423.6 94.27,423.91 92.84,424.37 91.44,424.93 90,425.53 88.5,426.18 86.97,426.9 85.46,427.66 84,428.27 82.62,428.88 81.29,429.56 79.99,430.18 78.7,430.6 77.01,430.55 75.35,430.21 73.6,430.4 72.52,431.03 71.43,431.95 70.3,433 69.07,434.31 67.7,435.58 66.6,436.43 65.42,437.28 64.17,438.12 62.88,438.93 61.57,439.7 60.27,440.41 59,441.05 57.44,441.71 55.75,442.3 54.06,442.82 52.49,443.26 51.16,443.63 50.2,443.91" fill="#1f77b4" fill-opacity="0.2" stroke="none"/>
<polygon points="50.2,443.89 51.16,443.51 52.49,443.01 54.06,442.4 55.75,441.71 57.44,440.95 59,440.15 60.49,439.26 62.01,438.24 63.53,437.16 65.01,436.08 66.41,435.04 67.7,434.12 69.39,432.91 70.87,431.79 72.25,430.74 73.6,429.74 75.35,428.61 77.01,427.61 78.7,426.33 79.99,425.02 81.29,423.5 82.62,421.93 84,420.5 85.46,419.25 86.97,418.15 88.5,417.12 90,416.16 91.44,415.24 92.84,414.38 94.27,413.62 95.8,413 97.46,412.52 99.22,412.17 101.01,411.96 102.8,411.91 104.52,412.1 106.21,412.44 107.97,412.95 109.9,413.62 111.32,414.18 112.84,414.85 114.41,415.59 116.02,416.37 117.62,417.16 119.2,417.88 120.76,418.4 122.34,418.94 123.92,419.49 125.48,420.02 127.01,420.51 128.5,420.94 130.21,421.41 131.86,421.84 133.47,422.21 135.08,422.48 136.7,422.63 138.36,422.95 140.04,423.23 141.71,423.4 143.34,423.49 144.9,423.51 146.79,423.4 148.63,423.14 150.35,422.75 151.9,422.2 153.61,421.49 155.06,420.73 156.5,419.9 157.99,419.03 159.47,418.1 161,416.93 162.17,415.92 163.35,414.83 164.6,413.6 166,412.2 167.04,411.16 168.16,410.06 169.32,408.88 170.52,407.62 171.72,406.28 172.9,404.84 173.76,403.7 174.62,402.51 175.47,401.28 176.33,400.01 177.2,398.69 178.08,397.32 178.98,395.91 179.9,394.45 180.66,393.23 181.45,391.94 182.26,390.59 183.08,389.21 183.91,387.8 184.73,386.4 185.55,385.02 186.35,383.67 187.14,382.38 187.9,381.16 188.81,379.73 189.68,378.41 190.52,377.15 191.35,375.92 192.18,374.7 193.02,373.46 193.89,372.18 194.8,370.81 195.65,369.53 196.52,368.19 197.42,366.79 198.33,365.37 199.25,363.96 200.17,362.57 201.07,361.25 201.95,360.02 202.8,358.9 204.04,357.44 205.25,356.16 206.43,355.02 207.59,353.97 208.71,352.95 209.8,351.9 211.05,350.68 212.24,349.54 213.4,348.42 214.54,347.26 215.7,346 215.7,356 214.54,357.26 213.4,358.42 212.24,359.54 211.05,360.68 209.8,361.9 208.71,362.95 207.59,363.97 206.43,365.02 205.25,366.16 204.04,367.44 202.8,368.9 201.95,370.02 201.07,371.25 200.17,372.57 199.25,373.96 198.33,375.37 197.42,376.79 196.52,378.19 195.65,379.53 194.8,380.79 193.89,382.07 193.02,383.27 192.18,384.42 191.35,385.56 190.52,386.7 189.68,387.87 188.81,389.11 187.9,390.44 187.14,391.59 186.35,392.81 185.55,394.08 184.73,395.38 183.91,396.7 183.08,398.01 182.26,399.31 181.45,400.58 180.66,401.8 179.9,402.94 178.98,404.31 178.08,405.63 177.2,406.91 176.33,408.14 175.47,409.33 174.62,410.46 173.76,411.54 172.9,412.56 171.72,413.84 170.52,415.02 169.32,416.12 168.16,417.14 167.04,418.1 166,419 164.6,420.22 163.35,421.27 162.17,422.21 161,423.07 159.47,424.1 157.99,425.03 156.5,425.9 155.06,426.73 153.61,427.49 151.9,428.2 150.35,428.75 148.63,429.35 146.79,429.89 144.9,430.3 143.34,430.52 141.71,430.68 140.04,430.76 138.36,430.74 136.7,430.67 135.08,430.7 133.47,430.6 131.86,430.42 130.21,430.17 128.5,429.89 127.01,429.62 125.48,429.3 123.92,428.94 122.34,428.57 120.76,428.2 119.2,427.86 117.62,427.33 116.02,426.75 114.41,426.17 112.84,425.62 111.32,425.14 109.9,424.75 107.97,424.33 106.21,424.04 104.52,423.91 102.8,423.87 101.01,423.58 99.22,423.44 97.46,423.45 95.8,423.6 94.27,423.92 92.84,424.41 91.44,425 90,425.63 88.5,426.3 86.97,427.03 85.46,427.84 84,428.57 82.62,429.4 81.29,430.39 79.99,431.35 78.7,432.1 77.01,432.65 75.35,432.93 73.6,433.3 72.25,433.71 70.87,434.17 69.39,434.85 67.7,435.88 66.41,436.68 65.01,437.58 63.53,438.51 62.01,439.44 60.49,440.3 59,441.05 57.44,441.69 55.75,442.28 54.06,442.8 52.49,443.25 51.16,443.63 50.2,443.91" fill="#d62728" fill-opacity="0.2" stroke="none"/>
<polygon points="215.2,343 220.8,315.3 226.6,320.5 232.6,306.6 238.7,322 244.8,309.2 250.4,311.8 256.5,297 262.3,313.6 268.4,284.8 274.1,318.8 279.7,277.8 285.8,329.2 291.5,331 297.6,297.9 303.7,357 303.7,402.4 297.6,348.4 291.5,372.8 285.8,367.6 279.7,322.3 274.1,346.7 268.4,322.3 262.3,337.1 256.5,325.7 250.4,331 244.8,329.2 238.7,334 232.6,329.2 226.6,339.7 220.8,339.7 215.2,353" fill="#1f77b4" fill-opacity="0.2" stroke="none"/>
<polygon points="71,430 74.3,421.3 77.5,427 77.5,430 74.3,430 71,431" fill="#1f77b4" fill-opacity="0.2" stroke="none"/>
<polygon points="160,419 165,412 168,399.7 171,404 176,398 182,384.8 188,369.9 192,362.9 198,358 204,351 208,350 215.2,343 215.2,354 208,360 204,366 198,373 192,381 188,390 182,396 176,404 171,411 168,414 165,418 160,423" fill="#1f77b4" fill-opacity="0.2" stroke="none"/>
<polyline points="50.2,443.9 51.16,443.57 52.49,443.13 54.06,442.6 55.75,441.99 57.44,441.32 59,440.6 60.49,439.78 62.01,438.84 63.53,437.84 65.01,436.83 66.41,435.86 67.7,435 69.39,433.88 70.87,432.88 72.25,431.96 73.6,431.1 75.35,430.15 77.01,429.31 78.7,428.2 79.99,427.02 81.29,425.62 82.62,424.2 84,422.9 85.46,421.76 86.97,420.71 88.5,419.72 90,418.8 91.44,417.92 92.84,417.1 94.27,416.38 95.8,415.8 97.46,415.37 99.22,415.07 101.01,414.91 102.8,414.9 104.52,415.05 106.21,415.34 107.97,415.79 109.9,416.4 111.32,416.92 112.84,417.54 114.41,418.24 116.02,418.97 117.62,419.7 119.2,420.4 120.76,421.09 122.34,421.81 123.92,422.54 125.48,423.24 127.01,423.9 128.5,424.5 130.21,425.16 131.86,425.77 133.47,426.32 135.08,426.77 136.7,427.1 138.36,427.3 140.04,427.38 141.71,427.36 143.34,427.26 144.9,427.1 146.79,426.77 148.63,426.29 150.35,425.75 151.9,425.2 153.61,424.49 155.06,423.73 156.5,422.9 157.99,422.03 159.47,421.1 161,420 162.17,419.06 163.35,418.05 164.6,416.91 166,415.6 167.04,414.63 168.16,413.6 169.32,412.5 170.52,411.32 171.72,410.06 172.9,408.7 173.76,407.62 174.62,406.49 175.47,405.3 176.33,404.07 177.2,402.8 178.08,401.48 178.98,400.11 179.9,398.7 180.66,397.51 181.45,396.26 182.26,394.95 183.08,393.61 183.91,392.25 184.73,390.89 185.55,389.55 186.35,388.24 187.14,386.99 187.9,385.8 188.81,384.42 189.68,383.14 190.52,381.92 191.35,380.74 192.18,379.56 193.02,378.37 193.89,377.12 194.8,375.8 195.65,374.53 196.52,373.19 197.42,371.79 198.33,370.37 199.25,368.96 200.17,367.57 201.07,366.25 201.95,365.02 202.8,363.9 204.04,362.44 205.25,361.16 206.43,360.02 207.59,358.97 208.71,357.95 209.8,356.9 211.05,355.68 212.24,354.54 213.4,353.42 214.54,352.26 215.7,351 216.68,349.81 217.67,348.51 218.66,347.16 219.63,345.84 220.58,344.59 221.5,343.5 222.79,342.14 223.99,340.99 225.21,339.98 226.5,339 227.92,338.02 229.41,337.1 230.93,336.28 232.4,335.6 234.29,334.96 236.14,334.55 238,334.3 239.87,334.19 241.75,334.23 243.6,334.4 245.4,334.67 247.19,335.06 249,335.6 250.41,336.13 251.86,336.75 253.3,337.45 254.7,338.2 256.04,338.99 257.34,339.83 258.64,340.75 260,341.8 261.15,342.73 262.33,343.74 263.53,344.82 264.73,345.97 265.9,347.2 266.85,348.28 267.79,349.41 268.72,350.59 269.64,351.83 270.57,353.13 271.5,354.5 272.31,355.75 273.13,357.07 273.96,358.44 274.78,359.85 275.59,361.26 276.36,362.65 277.1,364 277.9,365.5 278.65,366.96 279.36,368.4 280.06,369.86 280.77,371.38 281.5,373 282.07,374.28 282.64,375.62 283.22,377 283.8,378.4 284.38,379.82 284.96,381.25 285.53,382.68 286.1,384.1 286.66,385.5 287.21,386.89 287.76,388.27 288.31,389.67 288.85,391.08 289.4,392.52 289.95,393.99 290.5,395.5 291,396.9 291.5,398.34 292,399.82 292.51,401.32 293.02,402.83 293.52,404.34 294.02,405.83 294.51,407.28 295,408.7 295.54,410.24 296.07,411.73 296.59,413.18 297.11,414.62 297.63,416.06 298.15,417.51 298.67,418.99 299.2,420.5 299.7,421.95 300.23,423.52 300.79,425.17 301.34,426.82 301.88,428.43 302.38,429.94 302.83,431.3 303.21,432.43 303.5,433.3" fill="none" stroke="#d62728" stroke-width="2.0" stroke-linejoin="round" stroke-linecap="butt"/>
<polyline points="50.2,443.9 51.16,443.57 52.49,443.14 54.06,442.62 55.75,442.01 57.44,441.34 59,440.6 60.27,439.9 61.57,439.12 62.88,438.28 64.17,437.41 65.42,436.51 66.6,435.6 67.7,434.7 69.07,433.36 70.3,431.9 71.43,430.47 72.52,429.19 73.6,428.2 75.35,427.43 77.01,427.21 78.7,426.7 79.99,425.85 81.29,424.8 82.62,423.67 84,422.6 85.46,421.59 86.97,420.58 88.5,419.6 90,418.7 91.44,417.86 92.84,417.06 94.27,416.36 95.8,415.8 97.46,415.38 99.22,415.08 101.01,414.91 102.8,414.9 104.52,415.05 106.21,415.34 107.97,415.79 109.9,416.4 111.32,416.92 112.84,417.54 114.41,418.24 116.02,418.97 117.62,419.7 119.2,420.4 120.76,421.09 122.34,421.81 123.92,422.54 125.48,423.24 127.01,423.9 128.5,424.5 130.21,425.16 131.86,425.77 133.47,426.32 135.08,426.77 136.7,427.1 138.36,427.3 140.04,427.38 141.71,427.37 143.34,427.27 144.9,427.1 146.79,426.75 148.63,426.26 150.35,425.68 151.9,425.1 153.63,424.33 155.09,423.5 156.5,422.6 157.93,421.59 159.3,420.51 160.6,419.4 161.76,418.39 162.85,417.36 164,416 164.94,414.57 165.91,412.89 166.92,411.18 168,409.7 169.11,408.68 170.26,407.93 171.51,407.07 172.9,405.7 173.68,404.75 174.53,403.67 175.42,402.47 176.33,401.19 177.26,399.85 178.17,398.47 179.06,397.08 179.9,395.7 180.71,394.29 181.5,392.8 182.27,391.27 183.03,389.72 183.77,388.17 184.5,386.65 185.21,385.19 185.9,383.8 186.66,382.27 187.38,380.76 188.07,379.29 188.75,377.89 189.42,376.57 190.1,375.37 190.8,374.3 192,372.95 193.17,372.07 194.41,371.2 195.8,369.9 196.7,368.83 197.68,367.58 198.71,366.21 199.77,364.79 200.81,363.39 201.83,362.07 202.8,360.9 204.06,359.5 205.25,358.26 206.42,357.13 207.59,356.03 208.8,354.9 210.16,353.66 211.64,352.36 213.08,351.12 214.32,350.06 215.2,349.3 220.8,329.2 226.6,330.6 232.6,319.3 238.7,331.3 244.8,323.1 250.4,324.4 256.5,310.6 262.3,326.6 268.4,310.6 274.1,334.1 279.7,301.7 285.8,348.4 291.5,351.9 297.6,326.6 303.7,380.1" fill="none" stroke="#1f77b4" stroke-width="2.0" stroke-linejoin="round" stroke-linecap="butt"/>
<path d="M37.8 268.85 V452.85 H316" fill="none" stroke="#000" stroke-width="1.7" stroke-linecap="butt" stroke-linejoin="miter"/>
<text x="31.3" y="280.02" font-size="10.4" fill="#4d4d4d" stroke="#4d4d4d" stroke-width="0.12" text-anchor="end">60</text>
<text x="31.3" y="336.22" font-size="10.4" fill="#4d4d4d" stroke="#4d4d4d" stroke-width="0.12" text-anchor="end">40</text>
<text x="31.3" y="392.32" font-size="10.4" fill="#4d4d4d" stroke="#4d4d4d" stroke-width="0.12" text-anchor="end">20</text>
<text x="31.3" y="448.52" font-size="10.4" fill="#4d4d4d" stroke="#4d4d4d" stroke-width="0.12" text-anchor="end">0</text>
<text x="50.7" y="467.05" font-size="10.4" fill="#4d4d4d" stroke="#4d4d4d" stroke-width="0.12" text-anchor="middle">1980</text>
<text x="80.09" y="467.05" font-size="10.4" fill="#4d4d4d" stroke="#4d4d4d" stroke-width="0.12" text-anchor="middle">1985</text>
<text x="109.48" y="467.05" font-size="10.4" fill="#4d4d4d" stroke="#4d4d4d" stroke-width="0.12" text-anchor="middle">1990</text>
<text x="138.87" y="467.05" font-size="10.4" fill="#4d4d4d" stroke="#4d4d4d" stroke-width="0.12" text-anchor="middle">1995</text>
<text x="168.26" y="467.05" font-size="10.4" fill="#4d4d4d" stroke="#4d4d4d" stroke-width="0.12" text-anchor="middle">2000</text>
<text x="197.65" y="467.05" font-size="10.4" fill="#4d4d4d" stroke="#4d4d4d" stroke-width="0.12" text-anchor="middle">2005</text>
<text x="227.04" y="467.05" font-size="10.4" fill="#4d4d4d" stroke="#4d4d4d" stroke-width="0.12" text-anchor="middle">2010</text>
<text x="256.43" y="467.05" font-size="10.4" fill="#4d4d4d" stroke="#4d4d4d" stroke-width="0.12" text-anchor="middle">2015</text>
<text x="285.82" y="467.05" font-size="10.4" fill="#4d4d4d" stroke="#4d4d4d" stroke-width="0.12" text-anchor="middle">2020</text>
<text x="177" y="481.75" font-size="11.3" fill="#000" stroke="#000" stroke-width="0.3" text-anchor="middle">Year</text>
<text x="8.2" y="360.65" font-size="11.3" fill="#000" stroke="#000" stroke-width="0.3" text-anchor="middle" transform="rotate(-90 8.2 360.65)">Number of new HIV infections</text>
<polygon points="382.1,443.98 383.52,443.35 385.53,442.47 387.86,441.43 390.24,440.3 392.4,439.17 394.29,438.03 396.1,436.83 397.89,435.57 399.73,434.27 401.7,432.86 403.46,431.63 405.29,430.36 407.18,429.05 409.1,427.71 411.01,426.36 412.9,425.02 414.77,423.66 416.63,422.27 418.5,420.88 420.37,419.49 422.23,418.19 424.1,416.92 425.99,415.65 427.9,414.35 429.82,413.08 431.71,411.88 433.54,410.79 435.3,409.85 437.71,408.73 439.95,407.87 442.19,407.24 444.6,407.01 446.67,407.57 448.8,408.33 451.02,409.23 453.34,410.21 455.8,411.21 457.7,411.97 459.74,412.81 461.86,413.24 463.99,413.62 466.09,413.99 468.08,414.32 469.9,414.61 472.16,414.98 474.2,415.34 476.1,415.63 477.97,415.77 479.9,415.7 481.88,415.26 483.86,414.67 485.84,413.89 487.82,412.89 489.8,411.63 491.46,410.35 493.13,408.88 494.8,407.24 496.47,405.46 498.14,403.58 499.8,401.63 501.22,399.71 502.64,397.68 504.05,395.57 505.46,393.38 506.87,391.13 508.29,388.79 509.7,386.39 510.8,384.46 511.9,382.48 513,380.44 514.09,378.36 515.19,376.24 516.29,374.09 517.39,371.92 518.5,369.73 519.6,367.52 520.6,365.64 521.6,363.8 522.6,361.95 523.6,360.07 524.6,358.18 525.6,356.27 526.6,354.35 527.6,352.42 528.6,350.48 529.6,348.54 530.59,346.6 531.58,344.64 532.57,342.68 533.56,340.7 534.55,338.72 535.54,336.73 536.53,334.72 537.52,332.71 538.51,330.68 539.5,328.65 540.41,326.81 541.34,324.98 542.28,323.12 543.22,321.25 544.16,319.37 545.09,317.5 546.01,315.65 546.92,313.7 547.81,311.8 548.67,309.96 549.5,308.2 550.6,305.86 551.66,303.58 552.69,301.36 553.68,299.05 554.65,296.76 555.59,294.57 556.5,292.49 557.4,290.54 558.76,287.7 560.03,285.16 561.25,282.9 562.46,280.94 563.7,279.3 565.83,277.96 567.97,277.57 570.1,277.78 572.2,278.23 574.3,279.3 576.4,281.28 578,283.15 579.6,285.22 581.2,287.4 582.8,289.75 583.85,291.44 584.9,293.23 585.95,295.11 587,297.07 588.05,299.11 589.1,301.73 590.02,304.07 590.96,306.51 591.9,309.01 592.84,311.52 593.76,314.01 594.65,316.85 595.5,319.7 596.62,323.44 597.66,326.11 598.67,328.18 599.67,330.2 600.7,332.2 601.75,334.21 602.81,336.22 603.88,338.17 604.94,340.01 606,341.7 607.33,343.7 608.65,345.59 609.97,347.13 611.3,348.15 614.28,348.3 616.6,347.53 622.9,337.63 628.9,333.02 634.6,342.3 634.6,381.3 628.9,374.57 622.9,376.56 616.6,382.23 614.28,383.53 611.3,384.08 609.97,382.62 608.65,380.41 607.33,377.87 606,375.2 604.94,373.02 603.88,371.31 602.81,369.49 601.75,367.62 600.7,365.74 599.67,363.87 598.67,361.97 597.66,360.02 596.62,358.6 595.5,358.2 594.65,357.9 593.76,357.33 592.84,356.08 591.9,354.81 590.96,353.57 590.02,352.38 589.1,351.27 588.05,350.04 587,348.44 585.95,346.88 584.9,345.39 583.85,343.99 582.8,342.7 581.2,340.95 579.6,339.46 578,338.35 576.4,337.44 574.3,336.44 572.2,335.79 570.1,335.76 567.97,334.89 565.83,334.57 563.7,335.05 562.46,335.66 561.25,336.61 560.03,337.85 558.76,339.33 557.4,340.94 556.5,341.99 555.59,343.15 554.65,344.4 553.68,345.73 552.69,347.27 551.66,349.19 550.6,351.17 549.5,353.2 548.67,354.73 547.81,356.32 546.92,357.96 546.01,359.65 545.09,360.89 544.16,362.14 543.22,363.39 542.28,364.64 541.34,365.88 540.41,367.09 539.5,368.4 538.51,369.94 537.52,371.47 536.53,372.99 535.54,374.5 534.55,376 533.56,377.48 532.57,378.96 531.58,380.43 530.59,381.89 529.6,383.34 528.6,384.78 527.6,386.22 526.6,387.65 525.6,389.07 524.6,390.48 523.6,391.87 522.6,393.25 521.6,394.6 520.6,395.93 519.6,397.32 518.5,398.97 517.39,400.62 516.29,402.24 515.19,403.84 514.09,405.41 513,406.94 511.9,408.43 510.8,409.86 509.7,411.24 508.29,412.94 506.87,414.56 505.46,416.12 504.05,417.59 502.64,418.99 501.22,420.32 499.8,421.58 498.14,423.12 496.47,424.58 494.8,425.94 493.13,427.16 491.46,428.21 489.8,429.08 487.82,429.85 485.84,430.35 483.86,430.63 481.88,430.73 479.9,430.7 477.97,430.77 476.1,430.63 474.2,430.34 472.16,429.98 469.9,429.61 468.08,429.32 466.09,428.99 463.99,428.62 461.86,428.24 459.74,427.86 457.7,427.4 455.8,427 453.34,426.46 451.02,425.92 448.8,425.43 446.67,425.07 444.6,424.9 442.19,424.63 439.95,424.52 437.71,424.63 435.3,424.95 433.54,425.3 431.71,425.78 429.82,426.36 427.9,426.99 425.99,427.64 424.1,428.28 422.23,428.93 420.37,429.62 418.5,430.43 416.63,431.26 414.77,432.09 412.9,432.89 411.01,433.67 409.1,434.44 407.18,435.2 405.29,435.94 403.46,436.67 401.7,437.37 399.73,438.21 397.89,439.1 396.1,439.96 394.29,440.76 392.4,441.48 390.24,442.13 387.86,442.73 385.53,443.26 383.52,443.69 382.1,444.01" fill="#4aa362" fill-opacity="0.2" stroke="none"/>
<polygon points="398.9,442.2 401.7,420 404.5,393 410.1,378 416.6,370 423.2,364 434.4,353 446.5,345 457.7,333.6 470,325.2 484,321.7 500,322 508,326.7 528,333.7 545,335.7 560,334 575,326 590,318 600,314.5 610,312.5 634.6,311.8 634.6,315.8 610,317 600,320.5 590,326 575,336 560,344 545,346 528,343.6 508,337 500,334 484,335.7 470,346.6 457.7,359.7 446.5,376.5 434.4,384 423.2,398 416.6,403.5 410.1,412 404.5,421 401.7,436 398.9,442.2" fill="#d95f02" fill-opacity="0.2" stroke="none"/>
<polyline points="382.1,444 383.52,443.6 385.53,443.06 387.86,442.4 390.24,441.67 392.4,440.9 394.29,440.08 396.1,439.18 397.89,438.22 399.73,437.22 401.7,436.2 403.46,435.32 405.29,434.41 407.18,433.48 409.1,432.53 411.01,431.57 412.9,430.6 414.77,429.61 416.63,428.6 418.5,427.58 420.37,426.56 422.23,425.56 424.1,424.6 425.99,423.64 427.9,422.67 429.82,421.72 431.71,420.83 433.54,420.04 435.3,419.4 437.71,418.68 439.95,418.19 442.19,417.94 444.6,417.9 446.67,418.07 448.8,418.43 451.02,418.92 453.34,419.46 455.8,420 457.7,420.4 459.74,420.86 461.86,421.34 463.99,421.82 466.09,422.29 468.08,422.73 469.9,423.1 472.16,423.58 474.2,424.05 476.1,424.43 477.97,424.67 479.9,424.7 481.88,424.54 483.86,424.25 485.84,423.77 487.82,423.06 489.8,422.1 491.46,421.07 493.13,419.84 494.8,418.46 496.47,416.93 498.14,415.3 499.8,413.6 501.22,412.07 502.64,410.47 504.05,408.78 505.46,407.02 506.87,405.19 508.29,403.28 509.7,401.3 510.8,399.7 511.9,398.05 513,396.34 514.09,394.59 515.19,392.8 516.29,390.98 517.39,389.14 518.5,387.27 519.6,385.4 520.6,383.7 521.6,381.96 522.6,380.21 523.6,378.43 524.6,376.64 525.6,374.83 526.6,373.01 527.6,371.18 528.6,369.34 529.6,367.5 530.59,365.66 531.58,363.8 532.57,361.94 533.56,360.06 534.55,358.18 535.54,356.28 536.53,354.37 537.52,352.46 538.51,350.53 539.5,348.6 540.41,346.81 541.34,344.98 542.28,343.12 543.22,341.25 544.16,339.37 545.09,337.5 546.01,335.65 546.92,333.83 547.81,332.06 548.67,330.34 549.5,328.7 550.6,326.52 551.66,324.39 552.69,322.32 553.68,320.33 554.65,318.42 555.59,316.6 556.5,314.89 557.4,313.3 558.76,310.95 560.03,308.84 561.25,306.98 562.46,305.43 563.7,304.2 565.83,302.96 567.97,302.57 570.1,302.8 572.2,303.67 574.3,305.16 576.4,307 578,308.55 579.6,310.3 581.2,312.25 582.8,314.4 583.85,315.96 584.9,317.62 585.95,319.37 587,321.19 588.05,323.07 589.1,325 590.02,326.72 590.96,328.54 591.9,330.41 592.84,332.3 593.76,334.17 594.65,335.98 595.5,337.7 596.62,339.96 597.66,342.11 598.67,344.18 599.67,346.2 600.7,348.2 601.75,350.21 602.81,352.22 603.88,354.17 604.94,356.01 606,357.7 607.33,359.7 608.65,361.59 609.97,363.13 611.3,364.1 614.28,363.75 616.6,362.6 622.9,354.6 628.9,351 634.6,361.3" fill="none" stroke="#4aa362" stroke-width="2.0" stroke-linejoin="round" stroke-linecap="butt"/>
<polyline points="382.1,444 398.9,442.2 401.7,430.6 404.5,408.2 404.93,406.87 405.49,405.07 406.15,402.92 406.89,400.56 407.69,398.09 408.51,395.66 409.32,393.39 410.1,391.4 411.13,389.01 412.2,386.71 413.29,384.53 414.39,382.54 415.5,380.78 416.6,379.3 418.62,377.86 420.66,377.36 423.2,375.6 424.24,374.39 425.36,372.9 426.56,371.19 427.81,369.35 429.11,367.43 430.43,365.53 431.76,363.71 433.09,362.04 434.4,360.6 436.09,359.07 437.82,357.77 439.57,356.63 441.33,355.58 443.08,354.54 444.81,353.44 446.5,352.2 448.16,350.82 449.79,349.37 451.41,347.88 453.01,346.36 454.59,344.86 456.16,343.39 457.7,342 459.5,340.4 461.29,338.8 463.06,337.24 464.78,335.77 466.43,334.44 468,333.3 470.14,331.99 472.09,331.04 473.97,330.33 475.9,329.7 477.9,329.14 479.9,328.73 481.9,328.44 483.9,328.3 486.54,328.45 489.16,328.84 491.8,329.1 493.8,328.98 495.8,328.7 497.8,328.52 499.8,328.7 501.73,329.38 503.62,330.4 505.58,331.57 507.7,332.7 509.57,333.58 511.55,334.5 513.61,335.43 515.67,336.31 517.7,337.1 519.69,337.8 521.67,338.45 523.64,339.03 525.62,339.55 527.6,340 530.12,340.44 532.67,340.76 535.16,341 537.5,341.2 539.64,341.39 541.62,341.54 543.55,341.62 545.5,341.6 548.24,341.38 550.98,341.01 553.4,340.6 555.92,340.09 558.5,339.3 560.37,338.65 562.49,337.86 564.72,336.97 566.9,336 569.02,334.92 571.15,333.73 573.28,332.5 575.4,331.3 577.5,330.15 579.6,329.01 581.7,327.87 583.8,326.7 585.92,325.48 588.05,324.23 590.18,322.98 592.3,321.8 594.4,320.67 596.5,319.57 598.6,318.54 600.7,317.6 602.82,316.74 604.94,315.94 607.07,315.27 609.2,314.8 611.35,314.59 613.52,314.58 615.65,314.69 617.7,314.8 620.33,315.03 622.84,315.33 625.1,315.5 627.89,315.37 630.3,315 632.77,314.37 634.6,313.8" fill="none" stroke="#d95f02" stroke-width="2.0" stroke-linejoin="round" stroke-linecap="butt"/>
<line x1="368.55" y1="310.3" x2="647" y2="310.3" stroke="#555" stroke-width="1.9" stroke-dasharray="1.9 4.55"/>
<path d="M369 268.85 V452.85 H647.3 V268.85" fill="none" stroke="#000" stroke-width="1.7" stroke-linecap="butt" stroke-linejoin="miter"/>
<text x="362" y="322.22" font-size="10.4" fill="#4d4d4d" stroke="#4d4d4d" stroke-width="0.12" text-anchor="end">100</text>
<text x="362" y="385.42" font-size="10.4" fill="#4d4d4d" stroke="#4d4d4d" stroke-width="0.12" text-anchor="end">50</text>
<text x="362" y="448.52" font-size="10.4" fill="#4d4d4d" stroke="#4d4d4d" stroke-width="0.12" text-anchor="end">0</text>
<text x="653.6" y="307.12" font-size="10.4" fill="#4d4d4d" stroke="#4d4d4d" stroke-width="0.12" text-anchor="start">100</text>
<text x="653.6" y="335.42" font-size="10.4" fill="#4d4d4d" stroke="#4d4d4d" stroke-width="0.12" text-anchor="start">80</text>
<text x="653.6" y="363.72" font-size="10.4" fill="#4d4d4d" stroke="#4d4d4d" stroke-width="0.12" text-anchor="start">60</text>
<text x="653.6" y="392.02" font-size="10.4" fill="#4d4d4d" stroke="#4d4d4d" stroke-width="0.12" text-anchor="start">40</text>
<text x="653.6" y="420.32" font-size="10.4" fill="#4d4d4d" stroke="#4d4d4d" stroke-width="0.12" text-anchor="start">20</text>
<text x="653.6" y="448.62" font-size="10.4" fill="#4d4d4d" stroke="#4d4d4d" stroke-width="0.12" text-anchor="start">0</text>
<text x="381.8" y="467.05" font-size="10.4" fill="#4d4d4d" stroke="#4d4d4d" stroke-width="0.12" text-anchor="middle">1980</text>
<text x="411.19" y="467.05" font-size="10.4" fill="#4d4d4d" stroke="#4d4d4d" stroke-width="0.12" text-anchor="middle">1985</text>
<text x="440.58" y="467.05" font-size="10.4" fill="#4d4d4d" stroke="#4d4d4d" stroke-width="0.12" text-anchor="middle">1990</text>
<text x="469.97" y="467.05" font-size="10.4" fill="#4d4d4d" stroke="#4d4d4d" stroke-width="0.12" text-anchor="middle">1995</text>
<text x="499.36" y="467.05" font-size="10.4" fill="#4d4d4d" stroke="#4d4d4d" stroke-width="0.12" text-anchor="middle">2000</text>
<text x="528.75" y="467.05" font-size="10.4" fill="#4d4d4d" stroke="#4d4d4d" stroke-width="0.12" text-anchor="middle">2005</text>
<text x="558.14" y="467.05" font-size="10.4" fill="#4d4d4d" stroke="#4d4d4d" stroke-width="0.12" text-anchor="middle">2010</text>
<text x="587.53" y="467.05" font-size="10.4" fill="#4d4d4d" stroke="#4d4d4d" stroke-width="0.12" text-anchor="middle">2015</text>
<text x="616.92" y="467.05" font-size="10.4" fill="#4d4d4d" stroke="#4d4d4d" stroke-width="0.12" text-anchor="middle">2020</text>
<text x="508" y="481.75" font-size="11.3" fill="#000" stroke="#000" stroke-width="0.3" text-anchor="middle">Year</text>
<text x="339.4" y="360.65" font-size="11.3" fill="#000" stroke="#000" stroke-width="0.3" text-anchor="middle" transform="rotate(-90 339.4 360.65)">Number undiagnosed</text>
<text x="676.4" y="360.85" font-size="11.3" fill="#000" stroke="#000" stroke-width="0.3" text-anchor="middle" transform="rotate(90 676.4 360.85)">Diagnosed fraction (%)</text>
<polygon points="226,574.02 227.5,576.98 229,580.04 230.5,583.16 232,586.36 233.5,589.6 235,592.89 236.5,596.22 238,599.56 239.5,602.92 241,606.08 242.5,609.13 244,612.17 245.5,615.17 247,618.13 248.5,621.04 250,623.88 251.5,626.06 253,628.15 254.5,630.15 256,632.44 257.5,634.82 259,637.07 260.5,639.21 262,641.24 263.5,643.16 265,644.98 266.5,646.7 268,648.34 269.5,649.89 271,651.46 272.5,653 274,654.48 275.5,655.9 277,657.26 278.5,658.57 280,659.83 281.5,661.05 283,662.24 284.5,663.4 286,664.54 287.5,665.66 289,666.77 290.5,667.94 292,669.24 293.5,670.55 295,671.87 296.5,673.2 298,674.56 299.5,675.94 301,677.35 302.5,678.8 303.3,679.59 303.3,691.13 302.5,690.4 301,689.05 299.5,687.75 298,686.48 296.5,685.23 295,684 293.5,682.79 292,681.59 290.5,680.4 289,679.17 287.5,677.91 286,676.64 284.5,675.35 283,674.04 281.5,672.7 280,671.33 278.5,669.92 277,668.46 275.5,666.95 274,665.38 272.5,663.75 271,662.06 269.5,660.29 268,658.44 266.5,656.5 265,654.48 263.5,652.36 262,650.14 260.5,647.81 259,645.37 257.5,642.82 256,640.14 254.5,637.5 253,635.05 251.5,632.51 250,629.88 248.5,626.89 247,623.83 245.5,620.72 244,617.57 242.5,614.38 241,611.18 239.5,607.92 238,604.56 236.5,601.22 235,597.89 233.5,594.6 232,591.36 230.5,588.16 229,585.04 227.5,581.98 226,579.02" fill="#d62728" fill-opacity="0.2" stroke="none"/>
<polygon points="50.5,694.27 52,693.83 53.5,693.35 55,692.81 56.5,692.23 58,691.58 59.5,690.88 61,690.13 62.5,689.31 64,688.43 65.5,687.48 67,686.47 68.5,685.38 70,684.23 71.5,683 73,681.71 74.5,680.35 76,678.96 77.5,677.56 79,676.17 80.5,674.81 82,673.51 83.5,672.28 85,671.11 86.5,670 88,668.94 89.5,667.93 91,666.96 92.5,666.03 94,665.13 95.5,664.26 97,663.42 98.5,662.59 100,661.77 101.5,660.98 103,660.19 104.5,659.4 106,658.61 107.5,657.8 109,656.98 110.5,656.14 112,655.28 113.5,654.39 115,653.47 116.5,652.51 118,651.52 119.5,650.5 121,649.41 122.5,648.27 124,647.08 125.5,645.85 127,644.57 128.5,643.24 130,641.85 131.5,640.4 133,638.9 134.5,637.34 136,635.71 137.5,634.16 139,632.53 140.5,630.84 142,629.07 143.5,627.23 145,625.31 146.5,623.3 148,621.22 149.5,619.04 151,616.78 152.5,614.7 154,612.53 155.5,610.27 157,607.93 158.5,605.53 160,603.05 161.5,600.52 163,597.93 164.5,595.29 166,592.37 167.5,589.31 169,586.21 170.5,583.08 172,579.94 173.5,576.79 175,573.63 176.5,570.49 178,567.37 179.5,564.31 181,561.32 182.5,558.44 184,555.71 185.5,553.19 187,550.97 188.5,548.96 190,547.17 191.5,545.63 193,544.35 194.5,543.33 196,542.58 197.5,542.07 199,541.82 200.5,541.8 202,542.01 203.5,542.46 205,543.17 206.5,544.09 208,545.21 209.5,546.53 211,548.03 212.5,549.72 214,551.58 215.5,553.72 217,556.02 218.5,558.48 220,561.09 221.5,563.83 223,566.7 224.5,569.7 225.9,572.61 225.9,577.71 224.5,576.2 223,574.7 221.5,573.33 220,572.09 218.5,570.73 217,569.52 215.5,568.47 214,567.58 212.5,566.22 211,565.04 209.5,564.04 208,563.23 206.5,562.61 205,562.2 203.5,562 202,561.5 200.5,560.98 199,560.69 197.5,560.64 196,560.84 194.5,561.28 193,561.99 191.5,562.96 190,564.2 188.5,565.67 187,567.38 185.5,569.29 184,571.36 182.5,573.57 181,575.92 179.5,578.38 178,580.92 176.5,583.52 175,586.13 173.5,588.76 172,591.39 170.5,594.01 169,596.61 167.5,599.18 166,601.72 164.5,604.39 163,607.36 161.5,610.27 160,613.12 158.5,615.92 157,618.65 155.5,621.31 154,623.88 152.5,626.38 151,628.78 149.5,631.04 148,633.22 146.5,635.3 145,637.31 143.5,639.23 142,641.07 140.5,642.84 139,644.53 137.5,646.16 136,647.71 134.5,649.06 133,650.34 131.5,651.56 130,652.72 128.5,653.83 127,654.88 125.5,655.88 124,656.83 122.5,657.74 121,658.6 119.5,659.45 118,660.34 116.5,661.2 115,662.02 113.5,662.8 112,663.56 110.5,664.29 109,664.99 107.5,665.68 106,666.35 104.5,667.01 103,667.66 101.5,668.31 100,668.97 98.5,669.62 97,670.29 95.5,670.97 94,671.67 92.5,672.41 91,673.17 89.5,673.98 88,674.82 86.5,675.72 85,676.66 83.5,677.67 82,678.73 80.5,679.86 79,681 77.5,682.15 76,683.3 74.5,684.44 73,685.54 71.5,686.59 70,687.56 68.5,688.47 67,689.3 65.5,690.06 64,690.76 62.5,691.39 61,691.96 59.5,692.47 58,692.92 56.5,693.31 55,693.65 53.5,693.93 52,694.17 50.5,694.35" fill="#1f77b4" fill-opacity="0.2" stroke="none"/>
<polygon points="50.5,694.57 52,694.13 53.5,693.65 55,693.11 56.5,692.53 58,691.88 59.5,691.18 61,690.43 62.5,689.61 64,688.73 65.5,687.78 67,686.77 68.5,685.68 70,684.53 71.5,683.3 73,682.01 74.5,680.65 76,679.26 77.5,677.86 79,676.47 80.5,675.11 82,673.81 83.5,672.58 85,671.41 86.5,670.3 88,669.24 89.5,668.23 91,667.26 92.5,666.33 94,665.43 95.5,664.56 97,663.72 98.5,662.89 100,662.07 101.5,661.28 103,660.49 104.5,659.7 106,658.91 107.5,658.1 109,657.28 110.5,656.44 112,655.58 113.5,654.69 115,653.77 116.5,652.81 118,651.82 119.5,650.8 121,649.71 122.5,648.57 124,647.38 125.5,646.15 127,644.87 128.5,643.54 130,642.15 131.5,640.7 133,639.2 134.5,637.64 136,636.01 137.5,634.46 139,632.83 140.5,631.14 142,629.37 143.5,627.53 145,625.61 146.5,623.6 148,621.52 149.5,619.34 151,617.08 152.5,615 154,612.83 155.5,610.57 157,608.23 158.5,605.83 160,603.35 161.5,600.82 163,598.23 164.5,595.59 166,592.67 167.5,589.61 169,586.51 170.5,583.38 172,580.24 173.5,577.09 175,573.89 176.5,570.84 178,567.84 179.5,564.92 181,562.09 182.5,559.38 184,556.79 185.5,554.41 187,552.3 188.5,550.37 190,548.63 191.5,547.08 193,545.76 194.5,544.65 196,543.79 197.5,543.17 199,542.82 200.5,542.72 202,542.88 203.5,543.3 205,543.99 206.5,544.91 208,546.04 209.5,547.38 211,548.91 212.5,550.63 214,552.54 215.5,554.72 217,557.07 218.5,559.57 220,562.21 221.5,564.99 223,567.89 224.5,570.9 226,574.02 226,579.02 224.5,577.4 223,575.89 221.5,574.49 220,573.21 218.5,571.82 217,570.57 215.5,569.47 214,568.54 212.5,567.14 211,565.92 209.5,564.89 208,564.06 206.5,563.43 205,563.02 203.5,562.83 202,562.38 200.5,561.91 199,561.69 197.5,561.74 196,562.05 194.5,562.61 193,563.4 191.5,564.42 190,565.65 188.5,567.09 187,568.71 185.5,570.51 184,572.44 182.5,574.5 181,576.69 179.5,578.99 178,581.39 176.5,583.86 175,586.39 173.5,589.06 172,591.69 170.5,594.31 169,596.91 167.5,599.48 166,602.02 164.5,604.69 163,607.66 161.5,610.57 160,613.42 158.5,616.22 157,618.95 155.5,621.61 154,624.18 152.5,626.68 151,629.08 149.5,631.34 148,633.52 146.5,635.6 145,637.61 143.5,639.53 142,641.37 140.5,643.14 139,644.83 137.5,646.46 136,648.01 134.5,649.36 133,650.64 131.5,651.86 130,653.02 128.5,654.13 127,655.18 125.5,656.18 124,657.13 122.5,658.04 121,658.9 119.5,659.75 118,660.64 116.5,661.5 115,662.32 113.5,663.1 112,663.86 110.5,664.59 109,665.29 107.5,665.98 106,666.65 104.5,667.31 103,667.96 101.5,668.61 100,669.27 98.5,669.92 97,670.59 95.5,671.27 94,671.97 92.5,672.71 91,673.47 89.5,674.28 88,675.12 86.5,676.02 85,676.96 83.5,677.97 82,679.03 80.5,680.16 79,681.3 77.5,682.45 76,683.6 74.5,684.74 73,685.84 71.5,686.89 70,687.86 68.5,688.77 67,689.6 65.5,690.36 64,691.06 62.5,691.69 61,692.26 59.5,692.77 58,693.22 56.5,693.61 55,693.95 53.5,694.23 52,694.47 50.5,694.65" fill="#d62728" fill-opacity="0.2" stroke="none"/>
<polygon points="225.9,572.63 232.5,570.7 239.1,576.05 244.9,583.95 250.5,607.4 256.1,609.08 262.4,628.5 268,635.4 273.6,638.6 279.8,622.9 285.9,633.2 291.9,638.9 297.8,528.1 303.8,589.5 303.8,627.5 297.8,563.1 291.9,661.9 285.9,660.1 279.8,644.9 273.6,654 268,652.9 262.4,645 256.1,627.45 250.5,621.4 244.9,598.9 239.1,588.1 232.5,582.3 225.9,577.63" fill="#1f77b4" fill-opacity="0.2" stroke="none"/>
<polyline points="50.5,694.62 52,694.33 53.5,694 55,693.61 56.5,693.18 58,692.68 59.5,692.13 61,691.53 62.5,690.86 64,690.13 65.5,689.33 67,688.47 68.5,687.53 70,686.53 71.5,685.45 73,684.31 74.5,683.1 76,681.86 77.5,680.61 79,679.37 80.5,678.15 82,676.97 83.5,675.86 85,674.81 86.5,673.82 88,672.88 89.5,671.99 91,671.14 92.5,670.33 94,669.55 95.5,668.8 97,668.08 98.5,667.37 100,666.67 101.5,665.98 103,665.3 104.5,664.62 106,663.93 107.5,663.23 109,662.51 110.5,661.78 112,661.02 113.5,660.23 115,659.42 116.5,658.57 118,657.68 119.5,656.76 121,655.8 122.5,654.8 124,653.76 125.5,652.67 127,651.53 128.5,650.33 130,649.09 131.5,647.78 133,646.42 134.5,645 136,643.51 137.5,641.96 139,640.33 140.5,638.64 142,636.87 143.5,635.03 145,633.11 146.5,631.1 148,629.02 149.5,626.84 151,624.58 152.5,622.23 154,619.79 155.5,617.27 157,614.66 158.5,611.99 160,609.25 161.5,606.44 163,603.58 164.5,600.68 166,597.72 167.5,594.73 169,591.71 170.5,588.66 172,585.59 173.5,582.51 175,579.39 176.5,576.41 178,573.49 179.5,570.64 181,567.89 182.5,565.25 184,562.74 185.5,560.38 187,558.19 188.5,556.17 190,554.35 191.5,552.72 193,551.31 194.5,550.13 196,549.18 197.5,548.48 199,548.04 200.5,547.86 202,547.94 203.5,548.26 205,548.81 206.5,549.59 208,550.58 209.5,551.78 211,553.18 212.5,554.77 214,556.54 215.5,558.47 217,560.57 218.5,562.82 220,565.21 221.5,567.74 223,570.39 224.5,573.15 226,576.02 227.5,578.98 229,582.04 230.5,585.16 232,588.36 233.5,591.6 235,594.89 236.5,598.22 238,601.56 239.5,604.92 241,608.28 242.5,611.63 244,614.97 245.5,618.27 247,621.53 248.5,624.74 250,627.88 251.5,630.96 253,633.95 254.5,636.85 256,639.64 257.5,642.32 259,644.87 260.5,647.31 262,649.64 263.5,651.86 265,653.98 266.5,656 268,657.94 269.5,659.79 271,661.56 272.5,663.25 274,664.88 275.5,666.45 277,667.96 278.5,669.42 280,670.83 281.5,672.2 283,673.54 284.5,674.85 286,676.14 287.5,677.41 289,678.67 290.5,679.92 292,681.17 293.5,682.42 295,683.69 296.5,684.96 298,686.27 299.5,687.59 301,688.95 302.5,690.35 303.3,691.11" fill="none" stroke="#d62728" stroke-width="2.0" stroke-linejoin="round" stroke-linecap="butt"/>
<polyline points="50.5,694.32 52,694.03 53.5,693.7 55,693.31 56.5,692.88 58,692.38 59.5,691.83 61,691.23 62.5,690.56 64,689.83 65.5,689.03 67,688.17 68.5,687.23 70,686.23 71.5,685.15 73,684.01 74.5,682.8 76,681.56 77.5,680.31 79,679.07 80.5,677.85 82,676.67 83.5,675.56 85,674.51 86.5,673.52 88,672.58 89.5,671.69 91,670.84 92.5,670.03 94,669.25 95.5,668.5 97,667.78 98.5,667.07 100,666.37 101.5,665.68 103,665 104.5,664.32 106,663.63 107.5,662.93 109,662.21 110.5,661.48 112,660.72 113.5,659.93 115,659.12 116.5,658.27 118,657.38 119.5,656.46 121,655.5 122.5,654.5 124,653.46 125.5,652.37 127,651.23 128.5,650.03 130,648.79 131.5,647.48 133,646.12 134.5,644.7 136,643.21 137.5,641.66 139,640.03 140.5,638.34 142,636.57 143.5,634.73 145,632.81 146.5,630.8 148,628.72 149.5,626.54 151,624.28 152.5,621.93 154,619.49 155.5,616.97 157,614.36 158.5,611.69 160,608.95 161.5,606.14 163,603.28 164.5,600.38 166,597.42 167.5,594.43 169,591.41 170.5,588.36 172,585.29 173.5,582.21 175,579.13 176.5,576.07 178,573.02 179.5,570.03 181,567.12 182.5,564.32 184,561.66 185.5,559.16 187,556.86 188.5,554.76 190,552.89 191.5,551.27 193,549.9 194.5,548.8 196,547.97 197.5,547.38 199,547.04 200.5,546.94 202,547.07 203.5,547.42 205,547.99 206.5,548.77 208,549.75 209.5,550.93 211,552.3 212.5,553.85 214,555.58 215.5,557.47 217,559.52 218.5,561.73 220,564.09 221.5,566.58 223,569.2 224.5,571.95 225.9,574.63 232.5,578.7 239.1,583.1 244.9,593.9 250.5,617.4 256.1,623 262.4,637.5 268,646.9 273.6,647.6 279.8,636.9 285.9,648.7 291.9,653.9 297.8,555.1 303.8,609.5" fill="none" stroke="#1f77b4" stroke-width="2.0" stroke-linejoin="round" stroke-linecap="butt"/>
<path d="M37.8 519 V702.9 H316" fill="none" stroke="#000" stroke-width="1.7" stroke-linecap="butt" stroke-linejoin="miter"/>
<text x="31.3" y="543.82" font-size="10.4" fill="#4d4d4d" stroke="#4d4d4d" stroke-width="0.12" text-anchor="end">150</text>
<text x="31.3" y="595.62" font-size="10.4" fill="#4d4d4d" stroke="#4d4d4d" stroke-width="0.12" text-anchor="end">100</text>
<text x="31.3" y="646.92" font-size="10.4" fill="#4d4d4d" stroke="#4d4d4d" stroke-width="0.12" text-anchor="end">50</text>
<text x="31.3" y="698.42" font-size="10.4" fill="#4d4d4d" stroke="#4d4d4d" stroke-width="0.12" text-anchor="end">0</text>
<text x="50.7" y="717.2" font-size="10.4" fill="#4d4d4d" stroke="#4d4d4d" stroke-width="0.12" text-anchor="middle">1980</text>
<text x="80.09" y="717.2" font-size="10.4" fill="#4d4d4d" stroke="#4d4d4d" stroke-width="0.12" text-anchor="middle">1985</text>
<text x="109.48" y="717.2" font-size="10.4" fill="#4d4d4d" stroke="#4d4d4d" stroke-width="0.12" text-anchor="middle">1990</text>
<text x="138.87" y="717.2" font-size="10.4" fill="#4d4d4d" stroke="#4d4d4d" stroke-width="0.12" text-anchor="middle">1995</text>
<text x="168.26" y="717.2" font-size="10.4" fill="#4d4d4d" stroke="#4d4d4d" stroke-width="0.12" text-anchor="middle">2000</text>
<text x="197.65" y="717.2" font-size="10.4" fill="#4d4d4d" stroke="#4d4d4d" stroke-width="0.12" text-anchor="middle">2005</text>
<text x="227.04" y="717.2" font-size="10.4" fill="#4d4d4d" stroke="#4d4d4d" stroke-width="0.12" text-anchor="middle">2010</text>
<text x="256.43" y="717.2" font-size="10.4" fill="#4d4d4d" stroke="#4d4d4d" stroke-width="0.12" text-anchor="middle">2015</text>
<text x="285.82" y="717.2" font-size="10.4" fill="#4d4d4d" stroke="#4d4d4d" stroke-width="0.12" text-anchor="middle">2020</text>
<text x="177" y="731.9" font-size="11.3" fill="#000" stroke="#000" stroke-width="0.3" text-anchor="middle">Year</text>
<text x="8.2" y="610.8" font-size="11.3" fill="#000" stroke="#000" stroke-width="0.3" text-anchor="middle" transform="rotate(-90 8.2 610.8)">Number of new HIV infections</text>
<polygon points="381.8,694.5 383.4,693.84 385.69,692.87 388.31,691.79 390.9,690.8 392.91,690.11 395,689.45 397.14,688.79 399.28,688.11 401.4,687.37 403.48,686.58 405.56,685.76 407.64,684.91 409.72,684 411.8,683.05 413.9,682.03 416,680.94 418.1,679.82 420.2,678.64 422.3,677.24 424.44,675.8 426.62,674.31 428.77,672.83 430.82,671.43 432.7,670.2 434.68,668.84 436.38,667.63 438.06,666.43 440,665.1 441.81,663.92 443.77,662.69 445.81,661.41 447.87,660.08 449.9,658.72 451.9,657.13 453.9,655.5 455.9,653.82 457.9,652.07 459.9,650.23 461.55,648.66 463.17,647.08 464.8,645.45 466.44,643.72 468.1,641.83 469.8,639.75 471.13,638.07 472.53,636.24 473.96,634.3 475.39,632.3 476.8,630.26 478.16,628.23 479.44,626.26 480.6,624.32 481.79,622.14 482.85,620.01 483.82,617.92 484.73,615.87 485.61,613.85 486.49,611.85 487.4,609.88 488.48,607.63 489.54,605.46 490.59,603.39 491.63,601.36 492.66,599.3 493.7,597.16 494.74,594.94 495.77,592.67 496.81,590.36 497.84,588.04 498.87,585.72 499.9,583.42 500.95,581.3 502.01,579.17 503.07,577.04 504.12,574.95 505.14,572.93 506.1,571 507.16,568.88 508.13,566.94 509.07,565.06 510.04,563.12 511.1,561.22 512.06,559.46 513.08,557.57 514.12,555.62 515.19,553.67 516.25,551.8 517.3,550.06 518.54,548.15 519.78,546.36 521.02,544.76 522.26,543.24 523.5,541.75 524.76,540.26 526.04,538.8 527.31,537.39 528.54,536.08 529.7,534.91 531.46,533.02 533.09,531.42 534.7,530.11 536.91,528.61 539.5,527.92 541.26,527.66 543.27,527.45 545.39,527.5 547.5,527.93 549.21,528.8 550.99,530.01 552.76,531.42 554.46,532.94 556,534.47 557.66,536.39 559.11,538.41 560.48,540.69 561.9,543.37 562.89,545.31 563.89,547.35 564.89,549.47 565.9,551.65 566.9,553.86 567.9,556.07 568.9,558.28 569.9,560.52 570.91,562.56 571.91,564.61 572.91,566.69 573.9,568.8 574.75,570.65 575.59,572.55 576.43,574.47 577.27,576.41 578.11,578.34 578.95,580.24 579.8,582.09 580.8,584.15 581.8,586.15 582.8,588.12 583.8,590.07 584.8,592.03 585.8,594 586.79,595.98 587.77,597.96 588.75,599.94 589.73,601.93 590.71,603.88 591.7,605.81 592.69,607.77 593.69,609.75 594.69,611.73 595.7,613.69 596.7,615.63 597.7,617.51 598.7,619.37 599.7,621.2 600.71,623.11 601.71,625.03 602.71,626.88 603.7,628.67 604.88,630.76 606.06,632.8 607.24,634.74 608.42,636.54 609.6,638.16 611.59,640.29 613.6,641.94 615.6,643.1 617.57,643.46 619.53,643.42 621.6,643.38 623.87,643.21 626.23,643.14 628.5,643.42 630.2,644.07 631.93,645.01 633.44,645.96 634.5,646.6 634.5,670.6 633.44,669.49 631.93,667.87 630.2,666.16 628.5,664.76 626.23,663.47 623.87,662.49 621.6,661.64 619.53,661.42 617.57,661.46 615.6,661.1 613.6,660.51 611.59,659.65 609.6,658.32 608.42,657.18 607.24,655.85 606.06,654.37 604.88,652.8 603.7,651.19 602.71,649.8 601.71,648.34 600.71,646.83 599.7,645.28 598.7,643.69 597.7,642.09 596.7,640.45 595.7,638.77 594.69,637.05 593.69,635.33 592.69,633.6 591.7,631.89 590.71,630.2 589.73,628.48 588.75,626.69 587.77,624.91 586.79,623.12 585.8,621.34 584.8,619.57 583.8,617.81 582.8,616.06 581.8,614.29 580.8,612.49 579.8,610.6 578.95,608.79 578.11,606.93 577.27,605.05 576.43,603.15 575.59,601.27 574.75,599.41 573.9,597.6 572.91,595.54 571.91,593.51 570.91,591.52 569.9,589.53 568.9,587.39 567.9,585.28 566.9,583.17 565.9,581.06 564.89,578.99 563.89,576.96 562.89,575.02 561.9,573.18 560.48,570.64 559.11,568.49 557.66,566.58 556,564.8 554.46,563.4 552.76,562.02 550.99,560.76 549.21,559.69 547.5,558.9 545.39,558.34 543.27,558.15 541.26,558.24 539.5,558.55 536.91,559.88 534.7,561.93 533.09,563.64 531.46,565.66 529.7,568.06 528.54,569.82 527.31,571.74 526.04,573.78 524.76,575.88 523.5,578 522.26,580.11 521.02,582.25 519.78,584.4 518.54,586.44 517.3,588.6 516.25,590.55 515.19,592.64 514.12,594.79 513.08,596.95 512.06,599.04 511.1,601 510.04,603.12 509.07,605.06 508.13,606.94 507.16,608.88 506.1,611 505.14,612.93 504.12,614.95 503.07,617.04 502.01,619.17 500.95,621.3 499.9,623.34 498.87,624.81 497.84,626.31 496.81,627.81 495.77,629.29 494.74,630.73 493.7,632.12 492.66,633.42 491.63,634.66 490.59,635.86 489.54,637 488.48,638.12 487.4,639.28 486.49,640.34 485.61,641.46 484.73,642.6 483.82,643.74 482.85,644.86 481.79,645.93 480.6,646.92 479.44,647.98 478.16,649.31 476.8,650.66 475.39,651.99 473.96,653.28 472.53,654.51 471.13,655.63 469.8,656.69 468.1,658.26 466.44,659.65 464.8,660.89 463.17,662.03 461.55,663.12 459.9,664.2 457.9,665.44 455.9,666.59 453.9,667.67 451.9,668.7 449.9,669.7 447.87,670.66 445.81,671.57 443.77,672.45 441.81,673.29 440,674.1 438.06,675.04 436.38,675.91 434.68,676.78 432.7,677.74 430.82,678.6 428.77,679.46 426.62,680.3 424.44,681.13 422.3,681.93 420.2,682.71 418.1,683.62 416,684.52 413.9,685.38 411.8,686.18 409.72,686.92 407.64,687.6 405.56,688.24 403.48,688.84 401.4,689.41 399.28,689.93 397.14,690.38 395,690.82 392.91,691.26 390.9,691.73 388.31,692.46 385.69,693.26 383.4,693.99 381.8,694.5" fill="#4aa362" fill-opacity="0.2" stroke="none"/>
<polygon points="381.8,694.5 399.6,691.92 402.2,661.84 404.8,633.38 410.1,615.81 410.76,614.49 411.68,612.61 412.77,610.41 413.94,608.13 415.11,606.02 416.2,604.32 417.71,602.5 419.2,601.14 420.72,600.03 422.3,598.96 423.93,597.88 425.59,596.91 427.33,595.93 429.2,594.83 430.83,593.85 432.56,592.81 434.34,591.72 436.14,590.6 437.9,589.45 439.63,588.2 441.35,586.81 443.07,585.41 444.79,584.14 446.5,583.1 448.62,582.2 450.73,581.59 452.84,581.14 455,580.7 457.24,580.23 459.53,579.81 461.81,579.46 464,579.2 466.06,579.05 468.04,578.99 470,578.99 472,579 474.14,579.01 476.36,579.03 478.5,579.09 480.4,579.2 482.75,579.64 485.8,580.1 487.38,580.2 489.29,580.3 491.41,580.4 493.64,580.48 495.85,580.5 497.94,580.44 499.8,580.34 502.56,580.05 505.01,579.65 507.32,579.17 509.7,578.61 511.68,578.17 513.66,577.69 515.63,577.17 517.61,576.61 519.6,576.04 521.6,575.44 523.6,574.82 525.6,574.17 527.6,573.49 529.6,572.78 531.58,572.01 533.56,571.19 535.54,570.36 537.52,569.55 539.5,568.82 541.52,568.18 543.56,567.61 545.6,567.07 547.59,566.53 549.5,565.96 551.74,565.23 553.88,564.49 555.95,563.72 558,562.89 560.01,561.97 561.98,560.98 563.93,559.98 565.9,559.03 567.9,558.14 569.9,557.3 571.9,556.47 573.9,555.66 575.88,554.84 577.85,554.04 579.82,553.25 581.8,552.49 583.75,551.76 585.67,551.04 587.66,550.36 589.8,549.72 591.66,549.25 593.62,548.8 595.65,548.38 597.69,547.97 599.7,547.56 601.68,547.14 603.66,546.71 605.63,546.29 607.61,545.91 609.6,545.6 611.6,545.37 613.6,545.2 615.6,545.07 617.6,544.96 619.6,544.84 622.2,544.69 624.86,544.55 627.37,544.42 629.5,544.28 632.62,543.96 634.5,543.7 634.5,546.7 632.62,546.98 629.5,547.35 627.37,547.53 624.86,547.7 622.2,547.88 619.6,548.07 617.6,548.23 615.6,548.37 613.6,548.53 611.6,548.73 609.6,549 607.61,549.34 605.63,549.75 603.66,550.2 601.68,550.66 599.7,551.11 597.69,551.56 595.65,552 593.62,552.46 591.66,552.93 589.8,553.43 587.66,554.11 585.67,554.82 583.75,555.57 581.8,556.33 579.82,557.12 577.85,557.94 575.88,558.78 573.9,559.63 571.9,560.48 569.9,561.33 567.9,562.21 565.9,563.12 563.93,564.11 561.98,565.14 560.01,566.16 558,567.12 555.95,567.98 553.88,568.78 551.74,569.55 549.5,570.32 547.59,570.92 545.6,571.49 543.56,572.06 541.52,572.67 539.5,573.34 537.52,574.11 535.54,574.95 533.56,575.81 531.58,576.67 529.6,577.46 527.6,578.2 525.6,578.92 523.6,579.6 521.6,580.26 519.6,580.88 517.61,581.49 515.63,582.08 513.66,582.64 511.68,583.15 509.7,583.66 507.32,584.61 505.01,585.49 502.56,586.29 499.8,587.04 497.94,587.45 495.85,587.86 493.64,588.03 491.41,588.02 489.29,587.99 487.38,587.95 485.8,587.91 482.75,587.55 480.4,587.19 478.5,587.05 476.36,586.94 474.14,586.86 472,586.8 470,586.74 468.04,586.69 466.06,586.7 464,586.8 461.81,587.01 459.53,587.27 457.24,587.46 455,587.7 452.84,587.93 450.73,588.17 448.62,588.56 446.5,589.25 444.79,590.12 443.07,591.22 441.35,592.44 439.63,593.67 437.9,594.79 436.14,595.81 434.34,596.79 432.56,597.75 430.83,598.66 429.2,599.52 427.33,600.48 425.59,601.33 423.93,602.18 422.3,603.13 420.72,604.09 419.2,605.09 417.71,606.36 416.2,608.08 415.11,609.71 413.94,611.75 412.77,613.96 411.68,616.09 410.76,617.91 410.1,619.19 404.8,636.42 402.2,663.76 399.6,692.28 381.8,694.5" fill="#d95f02" fill-opacity="0.2" stroke="none"/>
<polyline points="381.8,694.5 383.4,693.95 385.69,693.16 388.31,692.29 390.9,691.5 392.91,690.97 395,690.47 397.14,689.99 399.28,689.47 401.4,688.9 403.48,688.28 405.56,687.62 407.64,686.93 409.72,686.19 411.8,685.4 413.9,684.54 416,683.63 418.1,682.67 420.2,681.68 422.3,680.7 424.44,679.69 426.62,678.64 428.77,677.58 430.82,676.56 432.7,675.6 434.68,674.54 436.38,673.59 438.06,672.64 440,671.6 441.81,670.7 443.77,669.76 445.81,668.78 447.87,667.76 449.9,666.7 451.9,665.6 453.9,664.48 455.9,663.3 457.9,662.05 459.9,660.7 461.55,659.54 463.17,658.37 464.8,657.15 466.44,655.83 468.1,654.36 469.8,652.7 471.13,651.29 472.53,649.75 473.96,648.1 475.39,646.38 476.8,644.62 478.16,642.87 479.44,641.15 480.6,639.5 481.79,637.68 482.85,635.86 483.82,634.07 484.73,632.29 485.61,630.53 486.49,628.8 487.4,627.1 488.48,625.18 489.54,623.33 490.59,621.51 491.63,619.69 492.66,617.83 493.7,615.9 494.74,613.89 495.77,611.83 496.81,609.72 497.84,607.61 498.87,605.49 499.9,603.4 500.95,601.3 502.01,599.17 503.07,597.04 504.12,594.95 505.14,592.93 506.1,591 507.16,588.88 508.13,586.94 509.07,585.06 510.04,583.12 511.1,581 512.06,579.04 513.08,576.95 514.12,574.79 515.19,572.64 516.25,570.55 517.3,568.6 518.54,566.44 519.78,564.4 521.02,562.45 522.26,560.56 523.5,558.7 524.76,556.83 526.04,554.98 527.31,553.2 528.54,551.52 529.7,550 531.46,547.8 533.09,545.95 534.7,544.4 536.91,542.58 539.5,541.5 541.26,541.24 543.27,541.15 545.39,541.34 547.5,541.9 549.21,542.69 550.99,543.76 552.76,545.02 554.46,546.4 556,547.8 557.66,549.58 559.11,551.49 560.48,553.55 561.9,555.8 562.89,557.44 563.89,559.18 564.89,561.01 565.9,562.89 566.9,564.79 567.9,566.7 568.9,568.61 569.9,570.55 570.91,572.52 571.91,574.51 572.91,576.54 573.9,578.6 574.75,580.41 575.59,582.27 576.43,584.15 577.27,586.05 578.11,587.93 578.95,589.79 579.8,591.6 580.8,593.65 581.8,595.65 582.8,597.62 583.8,599.57 584.8,601.53 585.8,603.5 586.79,605.48 587.77,607.46 588.75,609.44 589.73,611.43 590.71,613.41 591.7,615.4 592.69,617.41 593.69,619.43 594.69,621.46 595.7,623.48 596.7,625.46 597.7,627.4 598.7,629.3 599.7,631.19 600.71,633.04 601.71,634.86 602.71,636.61 603.7,638.3 604.88,640.27 606.06,642.19 607.24,644.02 608.42,645.7 609.6,647.2 611.59,649.29 613.6,650.94 615.6,652.2 617.57,652.89 619.53,653.18 621.6,653.6 623.87,654.27 626.23,655.08 628.5,656.2 630.2,657.48 631.93,659.06 633.44,660.56 634.5,661.6" fill="none" stroke="#4aa362" stroke-width="2.0" stroke-linejoin="round" stroke-linecap="butt"/>
<polyline points="381.8,694.5 399.6,692.1 402.2,662.8 404.8,634.9 410.1,617.5 410.76,616.2 411.68,614.35 412.77,612.18 413.94,609.94 415.11,607.87 416.2,606.2 417.71,604.43 419.2,603.11 420.72,602.01 422.3,600.9 423.93,599.79 425.59,598.77 427.33,597.74 429.2,596.6 430.83,595.58 432.56,594.49 434.34,593.36 436.14,592.19 437.9,591 439.63,589.71 441.35,588.31 443.07,586.91 444.79,585.64 446.5,584.6 448.62,583.7 450.73,583.09 452.84,582.64 455,582.2 457.24,581.73 459.53,581.31 461.81,580.96 464,580.7 466.06,580.55 468.04,580.49 470,580.49 472,580.5 474.14,580.51 476.36,580.53 478.5,580.59 480.4,580.7 482.75,581.14 485.8,581.6 487.38,581.7 489.29,581.8 491.41,581.9 493.64,581.98 495.85,582.03 497.94,582.04 499.8,582 502.56,581.8 505.01,581.49 507.32,581.08 509.7,580.6 511.68,580.17 513.66,579.68 515.63,579.15 517.61,578.58 519.6,578 521.6,577.4 523.6,576.76 525.6,576.1 527.6,575.42 529.6,574.7 531.58,573.93 533.56,573.1 535.54,572.25 537.52,571.44 539.5,570.7 541.52,570.05 543.56,569.47 545.6,568.92 547.59,568.38 549.5,567.8 551.74,567.06 553.88,566.31 555.95,565.54 558,564.7 560.01,563.77 561.98,562.77 563.93,561.76 565.9,560.8 567.9,559.91 569.9,559.06 571.9,558.22 573.9,557.4 575.88,556.58 577.85,555.76 579.82,554.97 581.8,554.2 583.75,553.46 585.67,552.74 587.66,552.05 589.8,551.4 591.66,550.92 593.62,550.47 595.65,550.04 597.69,549.62 599.7,549.2 601.68,548.77 603.66,548.33 605.63,547.9 607.61,547.52 609.6,547.2 611.6,546.96 613.6,546.78 615.6,546.65 617.6,546.53 619.6,546.4 622.2,546.24 624.86,546.09 627.37,545.95 629.5,545.8 632.62,545.46 634.5,545.2" fill="none" stroke="#d95f02" stroke-width="2.0" stroke-linejoin="round" stroke-linecap="butt"/>
<line x1="368.55" y1="549.1" x2="647" y2="549.1" stroke="#555" stroke-width="1.9" stroke-dasharray="1.9 4.55"/>
<path d="M369 519 V702.9 H647.3 V519" fill="none" stroke="#000" stroke-width="1.7" stroke-linecap="butt" stroke-linejoin="miter"/>
<text x="362" y="555.12" font-size="10.4" fill="#4d4d4d" stroke="#4d4d4d" stroke-width="0.12" text-anchor="end">300</text>
<text x="362" y="603.02" font-size="10.4" fill="#4d4d4d" stroke="#4d4d4d" stroke-width="0.12" text-anchor="end">200</text>
<text x="362" y="650.92" font-size="10.4" fill="#4d4d4d" stroke="#4d4d4d" stroke-width="0.12" text-anchor="end">100</text>
<text x="362" y="698.72" font-size="10.4" fill="#4d4d4d" stroke="#4d4d4d" stroke-width="0.12" text-anchor="end">0</text>
<text x="653.6" y="545.32" font-size="10.4" fill="#4d4d4d" stroke="#4d4d4d" stroke-width="0.12" text-anchor="start">100</text>
<text x="653.6" y="576.12" font-size="10.4" fill="#4d4d4d" stroke="#4d4d4d" stroke-width="0.12" text-anchor="start">80</text>
<text x="653.6" y="606.82" font-size="10.4" fill="#4d4d4d" stroke="#4d4d4d" stroke-width="0.12" text-anchor="start">60</text>
<text x="653.6" y="637.52" font-size="10.4" fill="#4d4d4d" stroke="#4d4d4d" stroke-width="0.12" text-anchor="start">40</text>
<text x="653.6" y="668.22" font-size="10.4" fill="#4d4d4d" stroke="#4d4d4d" stroke-width="0.12" text-anchor="start">20</text>
<text x="653.6" y="698.92" font-size="10.4" fill="#4d4d4d" stroke="#4d4d4d" stroke-width="0.12" text-anchor="start">0</text>
<text x="381.8" y="717.2" font-size="10.4" fill="#4d4d4d" stroke="#4d4d4d" stroke-width="0.12" text-anchor="middle">1980</text>
<text x="411.19" y="717.2" font-size="10.4" fill="#4d4d4d" stroke="#4d4d4d" stroke-width="0.12" text-anchor="middle">1985</text>
<text x="440.58" y="717.2" font-size="10.4" fill="#4d4d4d" stroke="#4d4d4d" stroke-width="0.12" text-anchor="middle">1990</text>
<text x="469.97" y="717.2" font-size="10.4" fill="#4d4d4d" stroke="#4d4d4d" stroke-width="0.12" text-anchor="middle">1995</text>
<text x="499.36" y="717.2" font-size="10.4" fill="#4d4d4d" stroke="#4d4d4d" stroke-width="0.12" text-anchor="middle">2000</text>
<text x="528.75" y="717.2" font-size="10.4" fill="#4d4d4d" stroke="#4d4d4d" stroke-width="0.12" text-anchor="middle">2005</text>
<text x="558.14" y="717.2" font-size="10.4" fill="#4d4d4d" stroke="#4d4d4d" stroke-width="0.12" text-anchor="middle">2010</text>
<text x="587.53" y="717.2" font-size="10.4" fill="#4d4d4d" stroke="#4d4d4d" stroke-width="0.12" text-anchor="middle">2015</text>
<text x="616.92" y="717.2" font-size="10.4" fill="#4d4d4d" stroke="#4d4d4d" stroke-width="0.12" text-anchor="middle">2020</text>
<text x="508" y="731.9" font-size="11.3" fill="#000" stroke="#000" stroke-width="0.3" text-anchor="middle">Year</text>
<text x="339.4" y="610.8" font-size="11.3" fill="#000" stroke="#000" stroke-width="0.3" text-anchor="middle" transform="rotate(-90 339.4 610.8)">Number undiagnosed</text>
<text x="676.4" y="611" font-size="11.3" fill="#000" stroke="#000" stroke-width="0.3" text-anchor="middle" transform="rotate(90 676.4 611)">Diagnosed fraction (%)</text>
<line x1="97.7" y1="767.6" x2="115.1" y2="767.6" stroke="#1f77b4" stroke-width="2"/>
<line x1="97.7" y1="796.9" x2="115.1" y2="796.9" stroke="#d62728" stroke-width="2"/>
<line x1="321.9" y1="767.8" x2="339.4" y2="767.8" stroke="#4aa362" stroke-width="2"/>
<line x1="321.9" y1="796.8" x2="339.4" y2="796.8" stroke="#d95f02" stroke-width="2"/>
<rect x="479.05" y="766.6" width="1.9" height="1.9" fill="#555"/>
<rect x="485.65" y="766.6" width="1.9" height="1.9" fill="#555"/>
<rect x="492.15" y="766.6" width="1.9" height="1.9" fill="#555"/>
<text x="125" y="771.8" font-size="12.55" fill="#000" stroke="#000" stroke-width="0.3" text-anchor="start">Total new HIV infections</text>
<text x="125" y="800.6" font-size="12.55" fill="#000" stroke="#000" stroke-width="0.3" text-anchor="start">New endogenous HIV infections</text>
<text x="349" y="771.8" font-size="12.55" fill="#000" stroke="#000" stroke-width="0.3" text-anchor="start">Number undiagnosed</text>
<text x="349" y="800.6" font-size="12.55" fill="#000" stroke="#000" stroke-width="0.3" text-anchor="start">Diagnosed fraction (%)</text>
<text x="506.6" y="771.8" font-size="12.55" fill="#000" stroke="#000" stroke-width="0.3" text-anchor="start">95% diagnosed</text>
</svg></body></html>
